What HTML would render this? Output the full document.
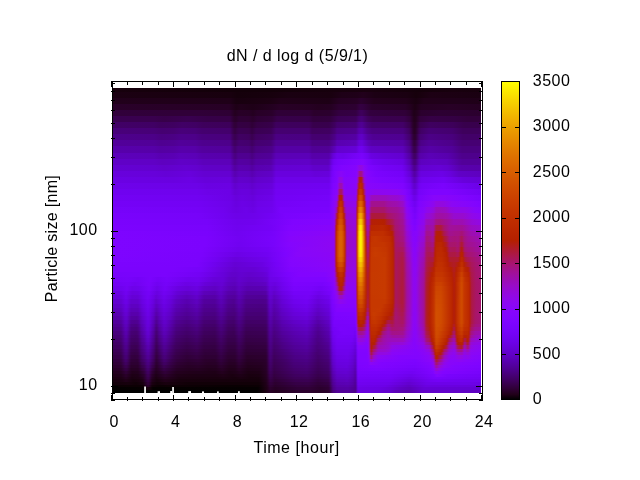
<!DOCTYPE html><html><head><meta charset="utf-8"><title>dN / d log d</title>
<style>html,body{margin:0;padding:0;background:#fff}#c{position:relative;width:640px;height:480px;overflow:hidden;background:#fff}svg{position:absolute;left:0;top:0;display:block}text{font-family:"Liberation Sans",sans-serif;font-size:16px;fill:#000}.hm{position:absolute;left:113px;top:88px;width:368px;height:305px;overflow:hidden}.hm i{position:absolute;left:0;width:368px;display:block}</style>
</head><body><div id="c">
<div class="hm"><i style="top:0px;height:4px;background:linear-gradient(90deg,#17000d 0px,#130009 119px,#130009 159px,#19000f 255px,#14000a 306px,#18000e 339px,#17000d 368px)"></i><i style="top:4px;height:6px;background:linear-gradient(90deg,#1b0012 0px,#18000e 118px,#15000b 124px,#17000d 159px,#1a0011 175px,#19000f 218px,#1e0017 229px,#1f0018 244px,#22001c 250px,#1c0014 262px,#1a0011 294px,#16000b 303px,#1d0014 318px,#1a0011 368px)"></i><i style="top:10px;height:6px;background:linear-gradient(90deg,#21001b 0px,#1f0018 117px,#18000f 123px,#1c0013 158px,#200019 168px,#1d0015 216px,#250022 226px,#270025 244px,#2b002e 248px,#23001d 261px,#21001a 293px,#190010 303px,#21001a 311px,#20001a 345px,#1f0018 368px)"></i><i style="top:16px;height:6px;background:linear-gradient(90deg,#290029 0px,#270025 116px,#1e0016 123px,#21001b 128px,#1e0017 140px,#240021 160px,#280026 167px,#260023 197px,#24001f 205px,#250022 218px,#2c0030 226px,#2d0031 243px,#340042 247px,#330040 250px,#2a002c 259px,#280028 292px,#23001e 298px,#1c0013 302px,#250022 308px,#280026 336px,#250022 368px)"></i><i style="top:22px;height:6px;background:linear-gradient(90deg,#31003b 0px,#300038 61px,#300038 85px,#2e0034 117px,#24001f 122px,#280027 126px,#270026 136px,#240020 140px,#280027 144px,#2a002b 159px,#2f0037 164px,#2f0036 196px,#2b002c 201px,#2b002e 217px,#330040 226px,#340043 243px,#3d005a 247px,#3e005c 249px,#33003f 257px,#31003b 273px,#300038 292px,#2b002e 297px,#1f0018 301px,#23001e 304px,#2b002e 308px,#2d0033 328px,#2b002e 368px)"></i><i style="top:28px;height:6px;background:linear-gradient(90deg,#390050 0px,#39004e 41px,#370049 51px,#390050 75px,#360048 94px,#360046 117px,#2b002d 121px,#2a002b 123px,#2e0035 126px,#2e0033 136px,#2a002b 140px,#2e0035 144px,#31003a 159px,#37004a 164px,#360048 196px,#31003c 200px,#32003e 217px,#3b0055 225px,#3d0059 243px,#450072 246px,#470077 249px,#3e005b 255px,#3a0050 260px,#39004d 291px,#32003c 297px,#22001c 301px,#24001f 303px,#32003c 307px,#360046 318px,#340043 342px,#32003c 354px,#32003c 368px)"></i><i style="top:34px;height:6px;background:linear-gradient(90deg,#410066 0px,#400064 41px,#3e005e 47px,#3f0060 61px,#410066 69px,#400063 83px,#3e005c 90px,#3d005a 117px,#31003a 121px,#300037 123px,#340043 125px,#340041 136px,#2f0036 139px,#350044 144px,#37004a 159px,#3e005e 163px,#3e005c 196px,#38004c 200px,#38004d 216px,#3f0060 222px,#44006e 224px,#460073 243px,#4e008f 246px,#500094 249px,#470078 254px,#420069 259px,#420067 290px,#38004b 297px,#290028 300px,#240020 302px,#2c002f 304px,#39004f 307px,#3f0060 317px,#3d005a 340px,#38004d 351px,#38004d 368px)"></i><i style="top:40px;height:6px;background:linear-gradient(90deg,#48007a 0px,#470077 41px,#450071 49px,#460073 61px,#48007a 68px,#470078 82px,#44006f 89px,#43006c 117px,#39004e 120px,#340042 122px,#38004c 124px,#3a0053 126px,#3a0050 136px,#340043 139px,#3a0053 143px,#3c0057 158px,#450071 163px,#450070 196px,#3f005e 199px,#400061 217px,#470076 222px,#4c0086 224px,#4e008c 243px,#5700aa 246px,#5800af 249px,#4f0090 254px,#4a0080 259px,#49007d 290px,#400063 296px,#39004e 298px,#2c0030 300px,#280027 301px,#270025 302px,#300039 304px,#3c0057 306px,#410065 308px,#460076 316px,#44006f 339px,#3e005c 350px,#3e005c 368px)"></i><i style="top:46px;height:6px;background:linear-gradient(90deg,#4d008b 0px,#4c0088 41px,#4a0081 48px,#4b0084 61px,#4d008b 68px,#4d0089 82px,#49007f 89px,#49007c 117px,#3e005c 120px,#390050 122px,#400062 126px,#3f005f 136px,#3a0050 139px,#400061 143px,#43006a 159px,#4b0083 163px,#4a0082 196px,#450070 199px,#450070 216px,#4d0089 222px,#52009c 224px,#5500a3 243px,#5e01c1 246px,#6001c6 249px,#5400a1 255px,#500093 260px,#4f0091 290px,#43006b 297px,#31003b 300px,#2d0031 301px,#2c002f 302px,#2f0037 303px,#410067 306px,#450072 307px,#4c0087 316px,#49007d 339px,#420068 350px,#420068 368px)"></i><i style="top:52px;height:6px;background:linear-gradient(90deg,#52009a 0px,#510098 41px,#4f0091 48px,#500094 61px,#52009a 67px,#510097 83px,#4e008e 89px,#4d008b 117px,#43006b 120px,#3f005f 122px,#450071 126px,#44006e 136px,#3f005f 139px,#450070 143px,#460076 158px,#500093 163px,#500093 196px,#4a0082 199px,#4a0082 216px,#53009d 222px,#5900b1 224px,#5c01b9 243px,#6601d7 246px,#6701db 249px,#5b01b7 255px,#5600a9 259px,#5500a4 290px,#4b0084 296px,#43006c 298px,#370049 300px,#32003e 301px,#32003c 302px,#3b0054 304px,#470077 306px,#4c0087 308px,#510096 316px,#4d008a 339px,#460073 349px,#460073 368px)"></i><i style="top:58px;height:7px;background:linear-gradient(90deg,#5700ab 0px,#5600a8 41px,#5400a2 47px,#5500a4 61px,#5700ab 68px,#5700a9 82px,#53009e 89px,#52009b 117px,#460075 121px,#44006f 122px,#4a0080 125px,#49007e 136px,#44006f 139px,#4a0081 143px,#4d008a 159px,#5500a5 163px,#5500a5 196px,#500095 199px,#510096 216px,#5c01bb 222px,#6301ce 224px,#6601d7 243px,#6f02ec 246px,#7002ef 249px,#5f01c4 258px,#5c01b9 290px,#4e008e 297px,#3d005b 300px,#39004f 301px,#39004d 302px,#3c0056 303px,#4d008a 306px,#52009a 308px,#5600a7 317px,#510099 339px,#4a0080 349px,#4a0080 368px)"></i><i style="top:65px;height:6px;background:linear-gradient(90deg,#5c01ba 0px,#5b01b8 41px,#5900b2 47px,#5a00b4 61px,#5c01ba 67px,#5b01b7 83px,#5800ae 89px,#5700ab 117px,#4c0086 121px,#4a0081 122px,#4b0083 123px,#4f0091 125px,#4f0090 136px,#4a0081 139px,#500092 143px,#510098 158px,#5b01b6 163px,#5b01b8 196px,#5700a9 199px,#5700ab 216px,#6601d7 220px,#6f02ed 224px,#6e02eb 230px,#7a03fc 249px,#7102f1 255px,#6a01e1 258px,#6601d8 270px,#6301d0 290px,#5400a2 297px,#450071 300px,#410065 301px,#400063 302px,#43006c 303px,#53009e 306px,#5700a9 307px,#5b01b7 316px,#5800ae 335px,#53009e 342px,#4e008c 349px,#4e008c 368px)"></i><i style="top:71px;height:6px;background:linear-gradient(90deg,#6001c7 0px,#6001c5 41px,#5e01bf 49px,#5e01c2 61px,#6001c7 68px,#5f01c4 83px,#5c01bb 90px,#5c01b9 117px,#510096 121px,#4f0091 122px,#52009b 124px,#5400a2 126px,#54009f 136px,#4f0091 139px,#5400a2 143px,#5600a7 158px,#5f01c5 163px,#6001c7 196px,#5c01ba 199px,#5c01ba 215px,#5d01be 216px,#6c01e7 219px,#7302f4 221px,#7803fb 225px,#7f04ff 242px,#8305fe 250px,#7803fb 256px,#7202f3 260px,#6e02ec 270px,#6a01e2 290px,#5a01b5 297px,#4c0087 300px,#48007c 301px,#48007a 302px,#4a0082 303px,#5900b1 306px,#5d01bf 308px,#6001c5 320px,#5e01c0 334px,#520099 349px,#520099 368px)"></i><i style="top:77px;height:6px;background:linear-gradient(90deg,#6401d2 0px,#6301d0 41px,#6201cb 51px,#6401d2 73px,#6301ce 84px,#6001c7 91px,#6001c5 117px,#5600a6 121px,#5400a1 122px,#5900b0 126px,#5800ae 136px,#5400a1 139px,#5900b0 143px,#5a01b5 158px,#6401d2 163px,#6501d4 196px,#6101ca 200px,#6101ca 215px,#6301ce 216px,#7202f2 219px,#7903fc 221px,#8004ff 229px,#8405fd 243px,#8c07f3 245px,#9008e6 246px,#9209e0 248px,#9109e4 249px,#8a06f7 251px,#7d04ff 256px,#7502f7 270px,#7102f0 289px,#6c01e5 292px,#6001c7 297px,#4f0091 301px,#4f0090 302px,#5600a6 304px,#5f01c3 306px,#6301d0 308px,#6601d6 326px,#6301cf 335px,#5800ac 348px,#5700aa 368px)"></i><i style="top:83px;height:6px;background:linear-gradient(90deg,#6801dc 0px,#6701da 41px,#6501d6 53px,#6801dc 77px,#6401d2 91px,#6401d1 117px,#5b01b6 121px,#5900b1 122px,#5e01bf 126px,#5d01bd 136px,#5900b1 139px,#5e01bf 144px,#6001c6 159px,#6901de 163px,#6901de 197px,#6701d9 202px,#6801dc 216px,#7602f8 219px,#7d04ff 222px,#8906f7 228px,#8204ff 233px,#8605fc 243px,#8b07f5 244px,#950ad6 245px,#a0109d 246px,#a41281 247px,#a41281 248px,#a21193 249px,#990cc4 250px,#9008e6 251px,#8b07f3 252px,#8305fe 255px,#7b03fe 263px,#7502f8 290px,#6601d8 297px,#5600a7 301px,#5500a5 302px,#5c01ba 304px,#6501d5 306px,#6901e0 308px,#6c01e7 329px,#6801dd 337px,#6001c7 346px,#5e01bf 368px)"></i><i style="top:89px;height:6px;background:linear-gradient(90deg,#6b01e4 0px,#6901e0 61px,#6b01e4 77px,#6701db 92px,#6801dc 117px,#5f01c4 121px,#5f01c2 123px,#6201cc 126px,#6101ca 136px,#5e01c0 139px,#6201cc 144px,#6401d2 159px,#6d02e8 163px,#6d02e8 216px,#7903fc 219px,#8204ff 224px,#8806f9 225px,#9008e8 226px,#9209e0 227px,#9109e4 229px,#8505fc 231px,#8806fa 243px,#8f08eb 244px,#9f0fa6 245px,#ae1a36 246px,#b41f04 247px,#b41f04 248px,#b01c24 249px,#a41282 250px,#980bc9 251px,#9008e6 252px,#8a06f5 253px,#8405fe 256px,#7e04ff 268px,#7a03fd 290px,#6c02e7 297px,#5c01bb 301px,#5c01ba 302px,#6201cd 304px,#6b01e5 306px,#6f02ee 309px,#7302f5 331px,#6801dc 350px,#6501d5 368px)"></i><i style="top:95px;height:6px;background:linear-gradient(90deg,#6e02ea 0px,#6c02e7 84px,#6a01e2 94px,#6b01e3 117px,#6201cd 122px,#6601d6 126px,#6501d5 136px,#6201cc 139px,#6601d6 144px,#6801dc 159px,#7002ef 163px,#7102f1 216px,#7f04ff 220px,#8405fd 224px,#8e08ed 225px,#990cc3 226px,#9d0eae 227px,#9d0eae 228px,#9c0db7 229px,#930adc 230px,#8906f7 231px,#8605fb 233px,#8a06f7 243px,#950ad7 244px,#b82400 246px,#be2b00 247px,#ba2600 249px,#ad193b 250px,#a11099 251px,#970bce 252px,#8d07ef 253px,#8706fb 255px,#8004ff 290px,#7202f3 297px,#6201cd 301px,#6201cc 302px,#6801dd 304px,#7102f1 306px,#7502f7 309px,#7b03fd 330px,#6f02ed 357px,#6c01e7 368px)"></i><i style="top:101px;height:6px;background:linear-gradient(90deg,#7002f0 0px,#6f02ed 84px,#6d02e8 94px,#6c01e6 117px,#6501d5 122px,#6801dd 128px,#6801dc 136px,#6501d4 139px,#6801de 145px,#6b01e3 159px,#7202f2 163px,#7402f6 216px,#8204ff 220px,#8806f9 224px,#950ad7 225px,#a41284 226px,#a9165f 227px,#a9165f 228px,#a7146f 229px,#9c0db4 230px,#8e08ec 231px,#8906f7 232px,#8906f7 242px,#8c07f2 243px,#9c0db7 244px,#b11d1b 245px,#c12f00 246px,#c63900 247px,#c33300 249px,#b72300 250px,#9f0fa7 252px,#9109e4 253px,#8b07f4 254px,#8b07f4 257px,#8d07ef 262px,#8b07f4 285px,#8305fe 292px,#7703fa 297px,#6801dc 301px,#6a01e0 303px,#7603f9 306px,#7f04ff 318px,#7f04ff 335px,#7302f4 368px)"></i><i style="top:107px;height:6px;background:linear-gradient(90deg,#7302f4 0px,#7102f1 84px,#6f02ed 96px,#6c01e6 118px,#6801dc 123px,#6a01e2 129px,#6901de 137px,#6701db 140px,#6b01e3 144px,#6d02e8 159px,#7302f5 163px,#7602f8 202px,#7603f9 216px,#8405fe 220px,#8a07f5 223px,#8f08ea 224px,#9e0fa8 225px,#b01b29 226px,#b62100 227px,#b62100 228px,#b31f0b 229px,#a71472 230px,#960bd1 231px,#8f08e9 232px,#8d07f0 235px,#8c07f3 242px,#8f08e9 243px,#a31287 244px,#bc2900 245px,#cb4000 246px,#d04c00 247px,#d04c00 248px,#cd4400 249px,#b52100 251px,#a7146d 252px,#960bd1 253px,#8e08ed 254px,#8d07ef 256px,#930adc 257px,#9a0cc1 258px,#9b0dbc 260px,#9a0dbe 272px,#980cc8 276px,#960ad3 285px,#9109e3 290px,#8204ff 294px,#7803fb 298px,#6d02e8 301px,#6f02ec 303px,#7b03fd 306px,#8706fb 321px,#8806f8 330px,#8104ff 351px,#7903fc 368px)"></i><i style="top:113px;height:6px;background:linear-gradient(90deg,#7502f7 0px,#7302f4 85px,#6d02e9 117px,#6901e0 123px,#6c01e6 129px,#6a01e3 137px,#6901e0 140px,#6d02e8 145px,#6f02ec 159px,#7502f7 164px,#7803fb 198px,#7803fb 216px,#8205fe 219px,#8b07f4 222px,#9209e2 223px,#990cc6 224px,#a91561 225px,#bb2700 226px,#c13000 227px,#be2c00 229px,#b11d1d 230px,#a00f9f 231px,#970bcd 232px,#9309df 233px,#9008e7 235px,#8f08ec 242px,#9309dd 243px,#ab174c 244px,#c63800 245px,#d55600 246px,#da6400 247px,#da6400 248px,#d75b00 249px,#c02e00 251px,#b01b27 252px,#9b0db8 253px,#9209e2 254px,#9008e7 255px,#9109e4 256px,#990cc4 257px,#a11096 258px,#a2118e 259px,#a2118f 271px,#9f0fa4 275px,#9d0eaf 284px,#980bc9 290px,#8b07f3 293px,#8405fe 295px,#7803fb 299px,#7102f1 302px,#7f04ff 306px,#8906f8 316px,#8e07ee 321px,#9309df 323px,#9209e0 330px,#8b07f5 339px,#8305fe 360px,#7f04ff 368px)"></i><i style="top:119px;height:6px;background:linear-gradient(90deg,#7703fa 0px,#7502f7 85px,#7002ee 111px,#6b01e4 123px,#6d02e9 133px,#6b01e4 140px,#6e02ec 145px,#7002ef 159px,#7803fb 167px,#7a03fd 216px,#8405fd 219px,#8906f8 221px,#8f08ea 222px,#9a0cbf 223px,#a3118a 224px,#b21e13 225px,#c33300 226px,#c93d00 227px,#c63900 229px,#ba2600 230px,#a9165c 231px,#9f0fa1 232px,#970bcc 233px,#940adc 234px,#9109e4 242px,#970bd0 243px,#b31e0e 244px,#d04c00 245px,#df7100 246px,#e48300 247px,#e48300 248px,#e17700 249px,#ca3f00 251px,#b82400 252px,#a1109a 253px,#950ad5 254px,#930adc 255px,#950ad6 256px,#9e0eac 257px,#a71472 258px,#a81568 259px,#a81569 271px,#a31288 275px,#a11095 284px,#9d0eb2 290px,#8f08e9 293px,#8b07f5 294px,#8104ff 298px,#7602f8 302px,#8305fe 306px,#8706fa 311px,#8f08eb 314px,#9108e6 318px,#940ada 321px,#9a0cbf 323px,#9b0dba 327px,#990cc3 333px,#9309dd 337px,#9008e7 343px,#9008e8 352px,#8706fa 362px,#8505fc 368px)"></i><i style="top:125px;height:6px;background:linear-gradient(90deg,#7903fc 0px,#7703f9 85px,#7002f0 111px,#6d02e8 123px,#6d02ea 137px,#6e02ea 141px,#7302f5 160px,#7a03fd 172px,#7f04ff 217px,#8a06f5 221px,#940adc 222px,#af1b2d 224px,#bc2900 225px,#ca3f00 226px,#cf4800 227px,#cd4400 229px,#b41f04 231px,#a91563 232px,#9c0db6 233px,#950ad4 234px,#9309df 242px,#990cc5 243px,#b82500 244px,#d96000 245px,#e89000 246px,#eea600 247px,#eea600 248px,#ea9800 249px,#de7000 250px,#d24f00 251px,#bf2d00 252px,#a5137c 253px,#990cc6 254px,#970bcf 255px,#990cc7 256px,#a21190 257px,#ac1848 258px,#ad193b 259px,#ad193c 271px,#ad1942 272px,#a9165c 274px,#a81568 276px,#a41285 284px,#9f0fa2 290px,#980bca 292px,#9309df 293px,#8e08ed 294px,#8405fd 298px,#7903fc 302px,#8605fc 306px,#8b07f4 311px,#930adc 313px,#970bcf 318px,#9a0cc1 321px,#9e0eaa 323px,#9f0fa3 328px,#9e0eac 334px,#960bd0 341px,#970bce 350px,#9008e9 359px,#8b07f4 368px)"></i><i style="top:131px;height:6px;background:linear-gradient(90deg,#7b03fd 0px,#7703fa 94px,#6f02ed 124px,#7002ee 141px,#7703f9 162px,#8004ff 180px,#8205fe 217px,#8b07f3 221px,#970bcc 222px,#ac1845 223px,#b92600 224px,#cf4900 226px,#d35200 227px,#d14e00 229px,#bd2a00 231px,#b11c21 232px,#9f0fa1 233px,#970bcf 234px,#940adb 242px,#9b0dbd 243px,#bc2a00 244px,#df7200 245px,#efae00 246px,#f5ca00 247px,#f5ca00 248px,#f2b800 249px,#e58600 250px,#d85e00 251px,#c43400 252px,#a9165f 253px,#9c0db5 254px,#9a0cc0 255px,#9c0db5 256px,#a7146e 257px,#b21d15 258px,#b41f07 259px,#b52100 267px,#b42001 271px,#b31f08 272px,#b01c26 274px,#aa1755 280px,#a61474 282px,#a11097 290px,#9a0cbf 292px,#9109e5 294px,#8305fe 299px,#7d04fe 302px,#8605fc 305px,#8d07f0 309px,#8e08ec 311px,#990cc6 313px,#9a0cbf 314px,#9c0db5 320px,#9e0eab 321px,#a41287 323px,#a5137c 327px,#a11095 334px,#9c0db6 341px,#9d0eb1 349px,#950ad7 359px,#9109e4 368px)"></i><i style="top:137px;height:6px;background:linear-gradient(90deg,#7c03fe 0px,#7903fc 94px,#7002ef 124px,#7502f7 158px,#8104ff 176px,#8605fb 217px,#8c07f1 221px,#9b0dbc 222px,#b31f0a 223px,#c23100 224px,#d45300 226px,#d75b00 227px,#d55700 229px,#c53600 231px,#b82300 232px,#a3118d 233px,#980bca 234px,#950ad8 242px,#9c0db6 243px,#c02e00 244px,#e48100 245px,#f5c700 246px,#fbe800 247px,#fbe800 248px,#f7d300 249px,#ea9800 250px,#c83b00 252px,#ad1942 253px,#9f0fa3 254px,#9d0eb0 255px,#9f0fa1 256px,#ad1843 257px,#b92600 258px,#bb2800 270px,#b52000 276px,#b31f09 277px,#ae1a35 280px,#a8156a 282px,#a41283 287px,#a2118f 290px,#a00f9f 291px,#970bcc 293px,#930adc 294px,#8705fb 299px,#8004ff 302px,#8906f8 305px,#8f08ea 308px,#9109e4 311px,#970bcd 312px,#9d0ead 313px,#9f0fa3 314px,#9e0eaa 320px,#a11096 321px,#a81568 322px,#ad1942 323px,#ae1a39 324px,#ae1a39 327px,#ad193e 328px,#a7146e 331px,#a1109a 337px,#a11096 347px,#a21094 349px,#9a0cc1 358px,#970bcf 368px)"></i><i style="top:143px;height:5px;background:linear-gradient(90deg,#7e04ff 0px,#7a03fd 95px,#7102f1 124px,#7703fa 159px,#8405fe 177px,#8906f7 217px,#8d07ef 221px,#9d0eaf 222px,#b82400 223px,#c83b00 224px,#d65a00 226px,#d96100 227px,#d85e00 229px,#cb4000 231px,#bd2a00 232px,#a5137d 233px,#990cc7 234px,#950ad5 242px,#9d0eb1 243px,#c23200 244px,#e78c00 245px,#f7d300 246px,#fdf400 247px,#fdf400 248px,#f9df00 249px,#eda400 250px,#e07400 251px,#cb4100 252px,#b01b29 253px,#a21192 254px,#a00fa0 255px,#a2118e 256px,#b11d1c 257px,#c02e00 258px,#c02e00 270px,#b42000 279px,#b21d15 280px,#ad193f 281px,#a91561 282px,#a7146c 283px,#a31288 290px,#960ad4 294px,#8505fc 300px,#8706fa 304px,#9109e3 308px,#940adc 311px,#9a0cc0 312px,#a11099 313px,#a3118e 314px,#a21193 317px,#a00f9f 319px,#a00fa0 320px,#a41285 321px,#ac1846 322px,#b21e14 323px,#b41f06 324px,#b41f04 327px,#b31f0c 328px,#ae1a38 330px,#ab174f 331px,#a5137c 335px,#a31289 336px,#a2118f 338px,#a41287 342px,#a41286 346px,#a61377 348px,#a61376 349px,#a21192 352px,#9d0eb0 358px,#9a0cbf 368px)"></i><i style="top:148px;height:6px;background:linear-gradient(90deg,#7e04ff 0px,#7c03fe 92px,#7202f2 127px,#7903fc 161px,#8605fc 178px,#8b07f4 217px,#8e07ee 221px,#9e0eab 222px,#b92500 223px,#c93d00 224px,#d75c00 226px,#da6300 227px,#d96000 229px,#cc4300 231px,#be2c00 232px,#a61378 233px,#990cc5 234px,#960ad4 242px,#9d0ead 243px,#c43400 244px,#e89200 245px,#f8d500 246px,#fdf400 247px,#fdf400 248px,#fae000 249px,#eea900 250px,#e27b00 251px,#cd4600 252px,#b21e11 253px,#a41281 254px,#a21191 255px,#a5137c 256px,#b42002 257px,#c33200 258px,#c53600 262px,#bf2d00 276px,#b62100 280px,#aa165a 282px,#a81568 283px,#a51280 290px,#a2118f 291px,#9b0dbb 293px,#970bcc 294px,#8706fa 300px,#8605fb 303px,#930adc 308px,#960ad3 311px,#9c0eb3 312px,#a3118a 313px,#a5137d 314px,#a41284 317px,#a21191 319px,#a21192 320px,#a61474 321px,#af1b2e 322px,#b52100 323px,#b52100 329px,#af1b2a 331px,#ab1750 334px,#a61377 336px,#a51280 337px,#a61378 342px,#a51280 345px,#a51379 346px,#aa1659 348px,#aa1755 349px,#a5137d 351px,#a11099 355px,#9d0eb2 367px,#9c0eb2 368px)"></i><i style="top:154px;height:5px;background:linear-gradient(90deg,#7e04ff 0px,#7c03fe 92px,#7102f1 126px,#7803fb 160px,#8405fe 176px,#8c07f3 218px,#8e07ee 221px,#9e0eab 222px,#b92600 223px,#c93d00 224px,#d75c00 226px,#da6300 227px,#d96000 229px,#cc4300 231px,#be2c00 232px,#a61379 233px,#990cc6 234px,#950ad4 242px,#9d0ead 243px,#c43500 244px,#e99300 245px,#f8d600 246px,#fdf400 247px,#fdf400 248px,#fae000 249px,#eea900 250px,#e27c00 251px,#cf4800 252px,#b52000 253px,#a71470 254px,#a41283 255px,#a8156a 256px,#b62200 257px,#c43500 258px,#c43500 271px,#bf2d00 277px,#b72300 280px,#b01c23 281px,#aa1755 282px,#a81564 283px,#a61473 290px,#a41283 291px,#9d0eb1 293px,#990cc3 294px,#8906f7 300px,#8605fb 302px,#8b07f4 304px,#940ad9 307px,#980bc9 311px,#9e0fa8 312px,#a5137d 313px,#a71470 314px,#a61375 317px,#a41281 319px,#a41281 320px,#a91561 321px,#b21d19 322px,#b82400 323px,#bb2700 328px,#b62200 330px,#b11c20 333px,#af1a31 334px,#a91563 336px,#a7146e 337px,#a8156a 342px,#a61378 345px,#a7146d 346px,#ae1a38 348px,#af1a32 349px,#ab184c 350px,#a7146e 351px,#a5137e 352px,#a2118f 355px,#a11096 360px,#9f0fa2 364px,#9e0fa7 368px)"></i><i style="top:159px;height:5px;background:linear-gradient(90deg,#7e04ff 0px,#7c03fe 89px,#6f02ed 125px,#7402f6 155px,#8104ff 174px,#8806fa 188px,#8b07f4 217px,#8d07ee 221px,#9e0eac 222px,#b92500 223px,#c93d00 224px,#d75c00 226px,#da6300 227px,#d96000 229px,#cc4300 231px,#be2b00 232px,#a5137b 233px,#980cc8 234px,#950ad6 242px,#9d0eb0 243px,#c43500 244px,#e99300 245px,#f8d600 246px,#fdf400 247px,#fdf400 248px,#fae000 249px,#eea900 250px,#e27c00 251px,#cf4a00 252px,#b72200 253px,#a91660 254px,#a61376 255px,#aa165a 256px,#b82400 257px,#c53600 258px,#c73a00 262px,#c43500 273px,#bb2800 279px,#b82400 280px,#b11c1d 281px,#ab1752 282px,#a91561 283px,#a9165e 289px,#a81564 290px,#a61375 291px,#9e0fa7 293px,#9b0dbb 294px,#950ad4 297px,#8a07f5 300px,#8706fa 302px,#9008e8 305px,#960ad3 307px,#9a0cbf 311px,#a0109d 312px,#a61474 313px,#a81565 314px,#a81565 317px,#a7146f 319px,#a7146f 320px,#ab174f 321px,#b41f07 322px,#ba2600 323px,#bd2a00 328px,#b52000 332px,#b41f06 333px,#b11d19 334px,#ab174e 336px,#aa165b 337px,#aa1657 342px,#a81569 344px,#a7146d 345px,#a9165e 346px,#b21d16 348px,#b31e0d 349px,#af1b2f 350px,#a9165d 351px,#a71471 352px,#a41283 355px,#a41286 359px,#a11096 363px,#a0109c 368px)"></i><i style="top:164px;height:5px;background:linear-gradient(90deg,#7e04ff 0px,#7b03fd 89px,#6c01e6 124px,#7102f2 154px,#7e04ff 172px,#8706fb 184px,#8a06f6 216px,#8d07ef 221px,#9e0eac 222px,#b92500 223px,#c93d00 224px,#d75c00 226px,#da6300 227px,#d96000 229px,#cc4300 231px,#be2b00 232px,#a5127f 233px,#970bcc 234px,#940ad9 242px,#9c0eb3 243px,#c43400 244px,#e89100 245px,#f7d100 246px,#fcee00 247px,#fcee00 248px,#f9db00 249px,#eea700 250px,#d04b00 252px,#b92500 253px,#ab1750 254px,#a8156a 255px,#ac184a 256px,#b92500 257px,#c63700 258px,#c83b00 262px,#c53700 273px,#b92500 280px,#b11d1a 281px,#ab174f 282px,#a9165e 283px,#ab174e 289px,#aa1754 290px,#a81567 291px,#a0109d 293px,#9c0eb3 294px,#970bce 297px,#8f08ea 299px,#8906f8 301px,#8a06f5 303px,#970bcd 307px,#9a0dbe 310px,#9c0db4 311px,#a21194 312px,#a7146c 313px,#a9165c 314px,#ab1753 316px,#aa165a 320px,#ae193a 321px,#b62100 322px,#bd2a00 324px,#bd2a00 329px,#b42002 334px,#ae1a38 336px,#ac1845 337px,#ad1941 342px,#ab1751 344px,#aa1754 345px,#ad1942 346px,#b21d17 347px,#b72200 348px,#b82400 349px,#b31f0a 350px,#ad1940 351px,#aa1658 352px,#a71470 355px,#a5137b 360px,#a31289 364px,#a2118f 368px)"></i><i style="top:169px;height:5px;background:linear-gradient(90deg,#7d04ff 0px,#7b03fd 86px,#7202f2 103px,#6801dc 122px,#6e02eb 153px,#7502f8 161px,#8405fe 178px,#8906f7 216px,#8d07ef 221px,#9d0eb1 222px,#b72300 223px,#c73900 224px,#d55700 226px,#d85d00 228px,#d65a00 229px,#ca3f00 231px,#bc2800 232px,#a31289 233px,#960bd0 234px,#930adc 242px,#9b0db8 243px,#c23200 244px,#e68900 245px,#f3c000 246px,#f8d800 247px,#f8d800 248px,#f5c800 249px,#e07600 251px,#d04a00 252px,#ba2600 253px,#ad1942 254px,#a9165e 255px,#ad193c 256px,#ba2700 257px,#c63800 258px,#c73a00 272px,#b92500 280px,#b21d18 281px,#ab174e 282px,#a9165d 283px,#ac1845 289px,#ac184b 290px,#a9165e 291px,#a11096 293px,#9e0eac 294px,#9b0db9 295px,#980bc9 297px,#9008e7 299px,#8a06f6 301px,#8b07f4 303px,#980cc8 307px,#9c0db5 310px,#9e0eaa 311px,#a3118b 312px,#a81564 313px,#ab1753 314px,#ac1845 316px,#ac1844 320px,#b82400 322px,#bf2d00 325px,#be2c00 329px,#b72200 334px,#b31f07 335px,#b11c21 336px,#af1b2e 337px,#af1b2f 345px,#b11d1b 346px,#b62200 347px,#bd2a00 349px,#b82400 350px,#ae1a34 352px,#ab174d 354px,#a81565 358px,#a5137a 364px,#a41282 368px)"></i><i style="top:174px;height:5px;background:linear-gradient(90deg,#7c03fe 0px,#7b03fd 84px,#7202f3 97px,#6501d4 122px,#6a01e2 149px,#7502f7 163px,#8305fe 178px,#8806f9 215px,#8d07f0 221px,#9b0dbc 222px,#b31e0f 223px,#c12f00 224px,#cf4900 226px,#d24e00 228px,#d04c00 229px,#c43400 231px,#b62200 232px,#a1109a 233px,#950ad5 234px,#9309df 242px,#9a0dbe 243px,#c12f00 244px,#e37e00 245px,#efad00 246px,#f3c100 247px,#f3c100 248px,#f1b400 249px,#de6e00 251px,#bb2700 253px,#ae1a36 254px,#ab1751 255px,#af1b2e 256px,#bb2800 257px,#c63800 258px,#c73a00 272px,#b92500 280px,#b21d18 281px,#ab174e 282px,#a9165d 283px,#ad1843 289px,#ac1848 290px,#aa165b 291px,#9e0fa9 294px,#990cc6 297px,#8d07ef 300px,#8a06f6 302px,#8f08ea 304px,#990cc4 307px,#9d0eae 310px,#9f0fa3 311px,#a41283 312px,#a9165c 313px,#ad1940 315px,#b01b29 320px,#b31f0a 321px,#ba2700 322px,#c13000 325px,#c02f00 329px,#b62200 335px,#b21e14 337px,#b01b27 341px,#b11d1b 343px,#b62200 346px,#c13100 349px,#b62200 351px,#aa1658 358px,#a7146f 363px,#a61379 368px)"></i><i style="top:179px;height:5px;background:linear-gradient(90deg,#7b03fd 0px,#7b03fd 60px,#7603f9 88px,#6301ce 122px,#6501d4 128px,#6501d4 141px,#6a01e2 154px,#7002ef 158px,#8004ff 177px,#8706fa 217px,#8c07f2 221px,#980bca 222px,#ad1843 223px,#b92500 224px,#c73900 226px,#c93d00 228px,#c33300 230px,#bd2a00 231px,#b11c1d 232px,#9e0eab 233px,#940ada 234px,#9209e3 242px,#990cc4 243px,#be2c00 244px,#df7200 245px,#ea9a00 246px,#efab00 247px,#efab00 248px,#eca000 249px,#cd4400 252px,#bb2700 253px,#af1b2b 254px,#ac1843 255px,#b11c20 256px,#bc2900 257px,#c63800 258px,#c73a00 272px,#b92500 280px,#b21d18 281px,#ab174e 282px,#a9165d 283px,#ad1941 289px,#ac1846 290px,#aa1659 291px,#a21190 293px,#9f0fa6 294px,#990cc4 297px,#8e07ee 300px,#8b07f5 302px,#9008e8 304px,#9a0cc0 307px,#9e0ea9 310px,#a0109d 311px,#a5137c 312px,#aa1754 313px,#ae1a36 315px,#b11d1d 318px,#b72200 321px,#c23100 323px,#c23100 329px,#b42000 338px,#b11c20 341px,#b11d1a 342px,#b41f04 343px,#c02f00 347px,#c63900 349px,#b82400 352px,#b41f04 355px,#b21d19 356px,#ae1939 357px,#ab174f 358px,#a7146b 363px,#a61475 368px)"></i><i style="top:184px;height:5px;background:linear-gradient(90deg,#7803fb 0px,#7b03fd 52px,#7402f5 86px,#6a01e0 104px,#6601d9 111px,#6201cb 118px,#6101ca 123px,#6301d0 128px,#6201cb 136px,#6501d4 150px,#6701db 154px,#6e02eb 157px,#7b03fe 175px,#8204ff 186px,#8205fe 212px,#8806f9 219px,#8b07f5 221px,#950ad8 222px,#a61376 223px,#b11c20 224px,#b72300 225px,#c02f00 227px,#c02e00 229px,#b52100 231px,#ab174e 232px,#9b0dbc 233px,#9209e0 234px,#9008e7 242px,#980bcb 243px,#bb2800 244px,#db6600 245px,#e68900 246px,#ea9800 247px,#ea9800 248px,#e78e00 249px,#d75a00 251px,#bb2700 253px,#b11c21 254px,#ae1a38 255px,#b21e14 256px,#bd2a00 257px,#c63900 258px,#c73a00 272px,#b92500 280px,#b21d18 281px,#ab174e 282px,#a9165d 283px,#ad193f 289px,#ac1845 290px,#aa1657 291px,#9f0fa5 294px,#990cc2 297px,#8e08ed 300px,#8b07f4 302px,#9008e6 304px,#9a0dbd 307px,#9f0fa5 310px,#a11098 311px,#ab184c 313px,#ae1939 314px,#b11d19 317px,#b41f07 318px,#b52100 319px,#ba2600 321px,#c43500 323px,#c43500 329px,#b52100 339px,#b11d1a 341px,#b62200 343px,#c53600 347px,#ca3f00 348px,#cb4100 349px,#c02f00 351px,#b62200 356px,#ac1846 358px,#a81569 363px,#a71471 368px)"></i><i style="top:189px;height:5px;background:linear-gradient(90deg,#7502f7 0px,#7703fa 15px,#7402f6 25px,#7a03fd 37px,#7502f7 45px,#7803fb 54px,#7002ef 75px,#7102f0 85px,#6701d9 101px,#6601d7 110px,#6001c7 116px,#5f01c2 122px,#6201cd 126px,#5f01c3 136px,#6101ca 149px,#6401d2 154px,#6c02e7 157px,#6e02ea 164px,#7402f5 170px,#7e04ff 181px,#7e04ff 212px,#8605fc 219px,#8906f8 221px,#9109e4 222px,#a9165d 224px,#b11c1e 225px,#b92500 226px,#bb2800 229px,#b62100 230px,#af1b2b 231px,#a61376 232px,#980bcb 233px,#9008e7 234px,#8f08eb 242px,#960bd1 243px,#b92500 244px,#d75c00 245px,#e17900 246px,#e58600 247px,#e58600 248px,#e37e00 249px,#c83c00 252px,#bb2700 253px,#b11d1c 254px,#af1a32 255px,#b31e0f 256px,#bd2a00 257px,#c63900 258px,#c73a00 272px,#b92500 280px,#b21d18 281px,#ab174e 282px,#a9165d 283px,#ad193e 289px,#ac1844 290px,#aa1756 291px,#a3118d 293px,#9f0fa3 294px,#9a0cc1 297px,#8f08eb 300px,#8c07f3 302px,#9109e5 304px,#9b0dba 307px,#a00fa1 310px,#a21194 311px,#a71470 312px,#ac1845 313px,#af1a32 314px,#b62100 318px,#bd2b00 321px,#c73a00 323px,#c73900 329px,#b72300 339px,#b41f04 340px,#b21d15 341px,#b82400 343px,#c83c00 347px,#cd4500 348px,#ce4700 349px,#c13000 352px,#b92600 356px,#b21e14 357px,#ad193f 358px,#aa165a 361px,#a81567 363px,#a7146f 368px)"></i><i style="top:194px;height:4px;background:linear-gradient(90deg,#7102f1 0px,#7402f6 10px,#7502f7 15px,#7102f0 22px,#7a03fc 36px,#7102f1 44px,#7603f9 53px,#6c01e5 73px,#6d02e9 85px,#6701d9 92px,#6301cf 102px,#6501d4 109px,#5e01c1 115px,#5c01bb 122px,#6101c8 126px,#5c01ba 135px,#5e01c0 150px,#5f01c3 153px,#6b01e3 157px,#6901e0 162px,#7202f2 171px,#7c03fe 181px,#7b03fd 199px,#7903fc 209px,#7e04ff 217px,#8706fa 221px,#8e08ed 222px,#a3118d 224px,#ab184b 225px,#b52100 226px,#b92500 228px,#b72300 229px,#b11d19 230px,#950ad8 233px,#8e08ec 234px,#8d07f0 240px,#8d07ee 242px,#950ad7 243px,#b72300 244px,#d45500 245px,#de6e00 246px,#e17800 247px,#e17800 248px,#df7100 249px,#c73900 252px,#ba2700 253px,#b11d1a 254px,#af1a32 255px,#b31e0f 256px,#bd2a00 257px,#c63900 258px,#c73a00 272px,#b92500 280px,#b21d18 281px,#ab174e 282px,#a9165d 283px,#ad193d 289px,#ad1843 290px,#aa1755 291px,#a3118c 293px,#9f0fa2 294px,#9a0cc0 297px,#8f08eb 300px,#8c07f2 302px,#9109e4 304px,#9b0db9 307px,#a0109e 310px,#a21191 311px,#ad193f 313px,#af1b2c 314px,#b21d16 316px,#b42002 317px,#c02e00 321px,#ca3f00 323px,#cb4000 328px,#b82400 339px,#b52000 340px,#b21e12 341px,#b41f05 342px,#bf2d00 344px,#ca3f00 347px,#cf4800 348px,#d04a00 349px,#c63700 351px,#bb2800 356px,#b31f0b 357px,#ae193b 358px,#ab174f 360px,#a81566 363px,#a7146d 368px)"></i><i style="top:198px;height:5px;background:linear-gradient(90deg,#6e02eb 0px,#6f02ee 9px,#7402f5 14px,#6d02e8 19px,#6e02ec 26px,#7803fb 36px,#6d02e9 44px,#7502f7 52px,#6a01e1 65px,#6701d9 75px,#6a01e1 84px,#6201cb 91px,#5f01c2 102px,#6301ce 108px,#5b01b6 116px,#5900b2 122px,#5f01c2 126px,#5800af 134px,#5900b1 149px,#5a01b5 153px,#6801dd 157px,#6601d8 160px,#6501d6 162px,#6e02eb 169px,#7903fc 181px,#7803fb 198px,#7402f6 208px,#7b03fd 217px,#8505fc 221px,#8b07f4 222px,#9b0dba 224px,#a41281 225px,#af1b2f 226px,#b31e0f 227px,#b31e0f 228px,#b11d1a 229px,#a3118d 231px,#9109e4 233px,#8c07f1 234px,#8b07f3 241px,#8c07f2 242px,#9309dd 243px,#b52000 244px,#d24f00 245px,#da6300 246px,#dd6c00 247px,#db6600 249px,#c53700 252px,#ba2700 253px,#b11d1b 254px,#ae1a34 255px,#b21e11 256px,#bd2a00 257px,#c63900 258px,#c73a00 272px,#b92500 280px,#b21d18 281px,#ab174e 282px,#a9165d 283px,#ad193f 288px,#ad193d 289px,#ad1942 290px,#aa1754 291px,#9f0fa2 294px,#9a0cbf 297px,#9309df 299px,#8d07f1 301px,#8e08ed 303px,#950ad5 305px,#9c0db8 307px,#a0109d 310px,#a2118f 311px,#a81569 312px,#ad193c 313px,#b01b28 314px,#b21e12 316px,#b52000 317px,#c13100 321px,#cd4400 323px,#cd4500 328px,#b92500 339px,#b52000 340px,#b21e11 341px,#b42003 342px,#c63800 346px,#cf4900 348px,#d04b00 349px,#c63700 351px,#bb2800 356px,#b31f0a 357px,#ae1939 358px,#ac1847 359px,#a81565 363px,#a7146d 368px)"></i><i style="top:203px;height:4px;background:linear-gradient(90deg,#6a01e2 0px,#6b01e3 8px,#7102f1 13px,#6901de 19px,#6901e0 25px,#7002ef 30px,#7502f8 36px,#6901e0 44px,#7202f2 51px,#6d02e8 58px,#6501d6 64px,#6101c9 74px,#6501d6 84px,#5c01b9 91px,#5a00b4 102px,#6001c6 108px,#5700ab 115px,#5600a6 122px,#5c01ba 126px,#5800ae 130px,#5400a1 134px,#5400a2 149px,#5500a5 153px,#5d01bd 155px,#6501d6 157px,#6401d3 159px,#6101c9 161px,#6b01e3 169px,#7502f8 181px,#7602f8 197px,#6f02ec 206px,#7703fa 217px,#8204fe 220px,#8706fa 222px,#9209e2 224px,#990cc2 225px,#a2118f 226px,#a51379 227px,#a51379 228px,#a41281 229px,#980bcb 231px,#8d07f0 233px,#8906f8 237px,#8a06f5 242px,#9109e3 243px,#b31e0e 244px,#cf4900 245px,#d75b00 246px,#d96200 247px,#d85d00 249px,#ba2600 253px,#b11c1d 254px,#ae1a38 255px,#b21d15 256px,#bd2a00 257px,#c63900 258px,#c73a00 272px,#b92500 280px,#b21d18 281px,#ab174e 282px,#a9165d 283px,#ad193c 289px,#ad1942 290px,#aa1754 291px,#9f0fa2 294px,#9a0cc0 297px,#8f08ea 300px,#8c07f2 302px,#9109e3 304px,#9c0db8 307px,#a0109d 310px,#a2118f 311px,#a81568 312px,#ae1939 313px,#b01c26 314px,#b52100 317px,#c23200 321px,#ce4700 323px,#ce4700 328px,#b92500 339px,#b52000 340px,#b21e11 341px,#b42002 342px,#cb4000 347px,#cf4900 348px,#d04b00 349px,#c63700 351px,#bb2800 356px,#b31f0a 357px,#ae1939 358px,#ac1847 359px,#a81565 363px,#a7146d 368px)"></i><i style="top:207px;height:4px;background:linear-gradient(90deg,#6701d9 0px,#6701db 8px,#6f02ec 13px,#6501d5 19px,#6601d6 25px,#6d02ea 30px,#7402f6 35px,#6b01e3 41px,#6601d6 43px,#6f02ed 51px,#6901e0 58px,#6101cb 64px,#5c01bb 74px,#6201cb 84px,#5700aa 91px,#5600a7 102px,#5d01be 108px,#5800ae 112px,#5400a1 115px,#53009c 122px,#5a00b3 126px,#5700aa 129px,#510097 133px,#500095 149px,#510098 153px,#5400a2 154px,#5f01c4 156px,#6301cf 157px,#6201cb 159px,#5d01be 161px,#6201cb 165px,#6801dc 169px,#7202f3 181px,#7502f6 195px,#6b01e3 205px,#7102f0 216px,#7d04fe 219px,#8806f9 223px,#8b07f3 224px,#9108e6 225px,#970bce 226px,#990cc4 227px,#980cc8 229px,#8f08e9 231px,#8806f9 234px,#8806f8 242px,#9008e8 243px,#b11c1e 244px,#cd4400 245px,#d45300 246px,#d65900 248px,#d55500 249px,#b92500 253px,#b01c23 254px,#ad193c 255px,#b11d19 256px,#bc2a00 257px,#c63800 258px,#c73a00 272px,#b92500 280px,#b21d18 281px,#ab174e 282px,#a9165d 283px,#ad193c 289px,#ad1941 290px,#aa1754 291px,#9f0fa2 294px,#9a0cc0 297px,#8f08eb 300px,#8c07f2 302px,#9109e4 304px,#9b0db8 307px,#a0109d 310px,#a2118f 311px,#a81567 312px,#ae1a38 313px,#b01c24 314px,#b52100 317px,#c33300 321px,#cf4900 323px,#cf4800 328px,#b92500 339px,#b52000 340px,#b21e11 341px,#b42002 342px,#cf4900 348px,#d04b00 349px,#c63700 351px,#bb2800 356px,#b31f0a 357px,#ae1939 358px,#ac1847 359px,#a81566 363px,#a7146d 368px)"></i><i style="top:211px;height:5px;background:linear-gradient(90deg,#6301cf 0px,#6401d1 8px,#6b01e5 12px,#6b01e5 14px,#6201cc 18px,#6201cc 25px,#6a01e2 29px,#7202f2 35px,#6a01e1 40px,#6201cb 43px,#6d02e8 51px,#6601d8 58px,#5e01c1 63px,#5800af 74px,#5e01c0 84px,#53009d 91px,#52009b 102px,#5a01b5 108px,#5700ab 111px,#510097 115px,#4f0090 121px,#5700aa 126px,#5400a1 129px,#4e008c 133px,#4d008a 150px,#4e008d 153px,#510097 154px,#5d01bc 156px,#6001c7 157px,#5f01c3 159px,#5a01b5 161px,#5f01c2 165px,#6501d5 169px,#6f02ed 181px,#7202f3 194px,#6701d9 205px,#6d02e9 216px,#7b03fd 219px,#8505fc 223px,#8f08ec 227px,#8605fc 235px,#8605fb 242px,#8e07ee 243px,#af1a32 244px,#ca3e00 245px,#d04b00 246px,#d25000 248px,#d14d00 249px,#b72300 253px,#af1b2d 254px,#ad1942 255px,#b11c1f 256px,#bc2900 257px,#c63800 258px,#c63800 272px,#b82400 280px,#b11d1b 281px,#ab1750 282px,#a9165e 283px,#ad193f 288px,#ad193d 289px,#ad1942 290px,#aa1755 291px,#9f0fa3 294px,#9a0cc1 297px,#8f08ec 300px,#8c07f3 302px,#9109e4 304px,#9b0db9 307px,#9e0eaa 309px,#a2118f 311px,#a81566 312px,#ae1a36 313px,#b01c22 314px,#b62100 317px,#c43400 321px,#d04b00 323px,#cf4900 328px,#b92500 339px,#b52000 340px,#b21e11 341px,#b42001 342px,#c43500 345px,#cf4900 348px,#d04b00 349px,#c63700 351px,#bb2800 356px,#b31f0a 357px,#ae1939 358px,#ac1847 359px,#a81566 363px,#a7146e 368px)"></i><i style="top:216px;height:4px;background:linear-gradient(90deg,#5f01c5 0px,#6001c7 8px,#6901e0 13px,#6601d8 15px,#5e01c1 18px,#5e01c1 25px,#6701db 29px,#7002ef 35px,#6b01e3 38px,#6501d3 41px,#5e01c1 43px,#5e01c1 44px,#6401d2 47px,#6a01e3 51px,#6501d5 57px,#5b01b7 63px,#5500a5 74px,#5b01b6 84px,#500094 91px,#4f0092 102px,#5800ad 108px,#5400a2 111px,#4e008e 115px,#4c0088 121px,#4f0091 123px,#5500a3 126px,#520099 129px,#4b0084 133px,#4a0081 149px,#4b0085 153px,#4e008f 154px,#5a01b5 156px,#5e01c1 157px,#5e01c2 158px,#5800ad 161px,#5c01ba 165px,#6201cb 168px,#6c01e7 181px,#6f02ed 194px,#6301d0 205px,#6a01e2 216px,#7903fc 219px,#8505fc 225px,#8405fd 242px,#8b07f4 243px,#ac1849 244px,#c63800 245px,#cd4600 247px,#cc4300 249px,#bd2b00 252px,#b52000 253px,#ae193b 254px,#ab174d 255px,#b01b28 256px,#bc2800 257px,#c63800 258px,#c63800 269px,#b62200 280px,#b01b28 281px,#aa1657 282px,#a81564 283px,#ad1941 289px,#ac1846 290px,#aa1658 291px,#a2118e 293px,#9f0fa4 294px,#9a0cc2 297px,#8e08ec 300px,#8c07f3 301px,#8d07ef 303px,#950ad7 305px,#9b0dba 307px,#a0109e 310px,#a2118f 311px,#a81566 312px,#ae1a35 313px,#b11c20 314px,#b62200 317px,#c43500 321px,#d14d00 323px,#d04a00 328px,#b92500 339px,#b52000 340px,#b21e11 341px,#b42001 342px,#c53600 345px,#cf4900 348px,#d04b00 349px,#c63700 351px,#bb2800 356px,#b31f0a 357px,#ae1939 358px,#ac1847 359px,#a81567 363px,#a7146f 368px)"></i><i style="top:220px;height:4px;background:linear-gradient(90deg,#5c01bb 0px,#5d01be 8px,#6601d8 12px,#6601d8 14px,#5b01b7 18px,#5b01b7 25px,#6501d4 29px,#6e02ec 35px,#6501d3 40px,#5b01b7 43px,#5b01b7 44px,#6201cb 47px,#6801dd 51px,#6601d8 54px,#6101c9 58px,#5800af 63px,#53009d 74px,#5800ae 84px,#4e008c 91px,#4d008a 102px,#5500a5 108px,#52009b 111px,#4c0087 115px,#4a0081 121px,#4d008a 123px,#52009c 126px,#4f0092 129px,#49007d 133px,#48007b 149px,#49007f 153px,#4c0089 154px,#5800af 156px,#5c01bb 157px,#5d01bc 158px,#5600a7 161px,#5a00b4 165px,#6001c7 169px,#6a01e1 182px,#6d02e8 194px,#6001c7 205px,#6801dc 216px,#7703fa 219px,#8204ff 224px,#8204ff 242px,#8906f8 243px,#a91660 244px,#c23200 245px,#c83c00 247px,#c43500 250px,#bb2700 252px,#b21e11 253px,#aa1754 254px,#a81568 255px,#ad193e 256px,#ba2700 257px,#c63800 258px,#c73900 267px,#b62200 279px,#b31f08 280px,#ae1a38 281px,#a91560 282px,#a7146b 283px,#ac1847 289px,#ab174c 290px,#a9165e 291px,#9f0fa6 294px,#990cc3 297px,#8e08ed 300px,#8b07f4 302px,#9008e6 304px,#9b0dbb 307px,#9e0eab 309px,#a2118f 311px,#a81565 312px,#ae1a34 313px,#b11c1f 314px,#b62200 317px,#c43500 321px,#d14e00 323px,#d04b00 328px,#b92500 339px,#b52000 340px,#b21e11 341px,#b42001 342px,#c53600 345px,#cf4900 348px,#d04b00 349px,#c63700 351px,#bb2800 356px,#b31f0a 357px,#ae1939 358px,#ab174f 360px,#a81569 363px,#a71470 368px)"></i><i style="top:224px;height:4px;background:linear-gradient(90deg,#5900b1 0px,#5a00b4 8px,#6401d1 12px,#6401d1 14px,#5800ac 18px,#5800ac 25px,#6201cd 29px,#6d02e8 35px,#6901e0 37px,#5f01c4 41px,#5800ac 43px,#5800ad 44px,#5f01c3 47px,#6601d8 51px,#6001c7 57px,#5600a6 63px,#500095 74px,#5500a5 84px,#4b0085 91px,#4a0082 102px,#53009d 108px,#500093 111px,#49007f 115px,#49007c 122px,#500094 126px,#4f0090 128px,#460076 133px,#460074 148px,#470078 153px,#4a0082 154px,#5600a8 156px,#5a01b5 157px,#5b01b6 158px,#5400a1 161px,#5800ad 165px,#5d01be 168px,#6701d9 181px,#6a01e1 194px,#5d01be 205px,#6501d6 216px,#7502f8 219px,#7d04ff 222px,#7f04ff 242px,#8605fb 243px,#a61378 244px,#be2c00 245px,#c33300 248px,#b72300 252px,#af1b2b 253px,#a61377 254px,#a2118f 255px,#a9165d 256px,#b92500 257px,#c63700 258px,#c83b00 261px,#c43400 268px,#b42000 278px,#b31f0a 279px,#b11d1d 280px,#ac1845 281px,#a81566 282px,#a7146f 283px,#ab1752 288px,#aa1754 290px,#a5137c 292px,#9e0fa9 294px,#990cc5 297px,#8d07ee 300px,#8a07f5 302px,#9008e8 304px,#9b0dbd 307px,#9e0eac 309px,#a2118f 311px,#a81565 312px,#ae1a34 313px,#b11c1f 314px,#b41f07 316px,#b62200 317px,#c53600 321px,#d24f00 323px,#d04b00 328px,#b92500 339px,#b52000 340px,#b21e11 341px,#b42001 342px,#c53600 345px,#cf4900 348px,#d04b00 349px,#c63700 351px,#bb2800 356px,#b31f0a 357px,#ae1939 358px,#aa165a 361px,#a8156a 363px,#a71472 368px)"></i><i style="top:228px;height:4px;background:linear-gradient(90deg,#5600a6 0px,#5700a9 8px,#6101c9 12px,#6101c9 14px,#5400a0 18px,#53009d 24px,#5700aa 26px,#6001c5 29px,#6b01e4 35px,#6801db 37px,#5c01bb 41px,#5400a0 43px,#5400a1 44px,#5c01bb 47px,#6401d2 51px,#5e01c0 57px,#53009c 63px,#4d008c 74px,#52009c 84px,#49007c 91px,#48007a 102px,#500095 108px,#4d008a 111px,#470077 115px,#450072 121px,#4e008d 126px,#4b0083 129px,#44006e 133px,#44006e 150px,#450071 153px,#48007b 154px,#5400a2 156px,#5800ae 157px,#5900af 158px,#52009a 161px,#5800ac 166px,#5c01b9 169px,#6401d1 181px,#6701da 194px,#5d01be 202px,#5a00b4 204px,#5d01bc 209px,#6301ce 216px,#7302f5 219px,#7c03fe 222px,#7d04ff 242px,#8305fe 243px,#a21191 244px,#ba2600 245px,#bf2d00 248px,#b92500 251px,#b31e0c 252px,#ab174f 253px,#a0109b 254px,#9d0eb2 255px,#a5137c 256px,#b62200 257px,#c43500 258px,#c73900 261px,#c13000 268px,#b52100 274px,#b01c22 279px,#af1a30 280px,#a8156a 282px,#a71471 283px,#aa1658 289px,#a9165d 290px,#a7146c 291px,#9e0eac 294px,#990cc6 297px,#9109e5 299px,#8a07f5 301px,#8c07f2 303px,#940adb 305px,#9a0cbf 307px,#9d0eae 309px,#a2118f 311px,#a81565 312px,#ae1a33 313px,#b11c1e 314px,#b62200 317px,#c53600 321px,#d24f00 323px,#d04b00 328px,#b92500 339px,#b52000 340px,#b21e11 341px,#b42001 342px,#c53600 345px,#cf4900 348px,#d04b00 349px,#c63700 351px,#bb2800 356px,#b31f0a 357px,#ae1939 358px,#a81566 362px,#a7146f 365px,#a61474 368px)"></i><i style="top:232px;height:4px;background:linear-gradient(90deg,#52009a 0px,#53009d 8px,#5e01c1 12px,#5e01c1 14px,#500094 18px,#4f0090 22px,#500094 25px,#5b01b6 28px,#6901e0 35px,#6601d6 37px,#5900b1 41px,#500094 43px,#500095 44px,#5700ac 46px,#6201cb 51px,#6101c8 53px,#5500a5 60px,#500092 63px,#4a0082 74px,#4f0092 84px,#460073 91px,#450070 102px,#4d008c 108px,#4a0082 111px,#44006e 115px,#43006a 121px,#4b0085 126px,#48007b 129px,#410066 133px,#420067 151px,#42006a 153px,#460074 154px,#52009a 156px,#5600a7 157px,#5600a8 158px,#500093 161px,#53009f 165px,#5900b1 169px,#6001c7 181px,#6401d1 194px,#5600a8 205px,#6001c5 216px,#7102f1 219px,#7903fc 221px,#7b03fd 242px,#8004ff 243px,#9e0eac 244px,#b42000 245px,#ba2600 248px,#b62200 250px,#b31f0a 251px,#ae193a 252px,#9b0db8 254px,#980cc7 255px,#a21193 256px,#b41f04 257px,#c33200 258px,#c53600 262px,#be2c00 268px,#b52000 272px,#b21d16 273px,#ae1a33 274px,#ac1845 275px,#ac1849 276px,#ad193c 279px,#ac1845 280px,#a7146d 282px,#a61472 283px,#a91563 289px,#a81567 290px,#a61375 291px,#9d0eb1 294px,#980bca 297px,#8d07f1 300px,#8a06f7 302px,#8f08ea 304px,#990cc2 307px,#9d0eb2 309px,#a21193 311px,#a81568 312px,#ae1a35 313px,#b11c20 314px,#b62200 317px,#c53600 321px,#d24f00 323px,#d04b00 328px,#b92500 339px,#b42000 340px,#b21d16 341px,#b41f05 342px,#c13000 344px,#cf4900 348px,#cf4a00 349px,#c33200 352px,#c02e00 355px,#bb2700 356px,#b31e0d 357px,#ad193d 358px,#a7146b 362px,#a61474 365px,#a61379 368px)"></i><i style="top:236px;height:3px;background:linear-gradient(90deg,#4f008f 0px,#500093 8px,#5c01ba 12px,#5c01ba 14px,#4c0088 18px,#4b0084 22px,#4b0084 24px,#500093 26px,#5800ae 28px,#6101c8 32px,#6701d9 34px,#6701da 36px,#5700a9 41px,#4c0088 43px,#4d0089 44px,#5500a3 46px,#6001c5 51px,#5f01c2 53px,#5700a9 58px,#4d0089 63px,#480079 74px,#4d0089 84px,#43006b 91px,#420069 102px,#4b0084 108px,#460074 112px,#420067 115px,#400063 121px,#49007e 126px,#460074 129px,#3f005f 133px,#3f0060 150px,#400063 153px,#44006d 154px,#500094 156px,#5400a1 157px,#5400a2 158px,#4e008d 161px,#510098 165px,#5700aa 169px,#5e01bf 182px,#6101ca 194px,#5600a9 202px,#53009d 205px,#5d01be 216px,#7002ee 219px,#7803fa 221px,#7903fc 241px,#7803fb 242px,#7e04ff 243px,#990cc4 244px,#af1b2f 245px,#b31e0e 246px,#b42002 247px,#b42002 248px,#b31f0a 249px,#ae193a 251px,#a81565 252px,#970bcc 254px,#950ad5 255px,#9f0fa5 256px,#b21d18 257px,#c13000 258px,#c23100 263px,#ba2700 268px,#b62200 269px,#b21d17 271px,#b01b28 272px,#a81565 274px,#a61379 275px,#a5137a 276px,#aa1755 279px,#aa1658 280px,#a71471 282px,#a71472 285px,#a7146d 289px,#a71472 290px,#a5127f 291px,#9c0db7 294px,#970bce 297px,#8c07f2 300px,#8906f7 302px,#8e08ec 304px,#980cc7 307px,#9c0db7 309px,#a11099 311px,#a7146e 312px,#ad193c 313px,#b01c26 314px,#b52100 317px,#c43500 321px,#d14e00 323px,#d24f00 325px,#ce4600 329px,#b72300 339px,#b01b28 341px,#b82500 343px,#c43500 345px,#cd4600 348px,#ce4700 349px,#c43400 351px,#bf2d00 355px,#ba2600 356px,#b11d19 357px,#ac184a 358px,#a7146e 361px,#a5127f 363px,#a41286 368px)"></i><i style="top:239px;height:4px;background:linear-gradient(90deg,#4c0086 0px,#4d0089 8px,#5a00b3 12px,#5b01b6 13px,#5600a8 15px,#49007e 18px,#48007a 22px,#48007a 24px,#4d008a 26px,#5600a6 28px,#5f01c2 32px,#6501d4 34px,#6601d8 35px,#6201cc 37px,#5400a0 41px,#49007e 43px,#4a007f 44px,#52009a 46px,#5e01bf 51px,#5b01b6 54px,#500094 60px,#4a0081 63px,#450071 74px,#4a0080 84px,#410064 91px,#400061 102px,#49007d 108px,#450073 111px,#3f0060 115px,#3e005c 121px,#470077 126px,#450073 128px,#3c0058 133px,#3d005a 150px,#3e005d 153px,#420067 154px,#4e008e 156px,#52009b 157px,#53009c 158px,#4c0087 161px,#4f0092 165px,#5500a3 169px,#5b01b7 181px,#5f01c2 194px,#5400a0 202px,#500095 205px,#5b01b6 216px,#6e02ea 219px,#7302f5 220px,#7903fc 227px,#7703fa 241px,#7602f8 242px,#7a03fd 243px,#940ada 244px,#a81567 245px,#ab174e 246px,#ac1846 247px,#ac184b 249px,#a7146e 251px,#9309dd 254px,#9209e0 255px,#9c0db4 256px,#af1b2b 257px,#bf2d00 258px,#bf2d00 263px,#b52100 268px,#ad193f 270px,#aa165b 272px,#a31288 274px,#a11096 275px,#a11096 276px,#a7146e 279px,#a5137f 290px,#a0109d 292px,#9a0dbe 294px,#960ad3 297px,#8b07f3 300px,#8806f8 302px,#8d07ee 304px,#9d0eb1 310px,#9f0fa1 311px,#a61379 312px,#ac1847 313px,#af1a32 314px,#b11d1b 316px,#b42002 317px,#c33300 321px,#d14d00 323px,#ce4800 328px,#ba2700 337px,#b42002 339px,#af1b2d 340px,#ac1845 341px,#ae1a33 342px,#b62200 343px,#c33200 345px,#cb4200 349px,#c12f00 351px,#bd2a00 355px,#b82400 356px,#a91560 358px,#a61378 360px,#a3118e 362px,#a1109a 368px)"></i><i style="top:243px;height:4px;background:linear-gradient(90deg,#48007c 0px,#4a007f 8px,#5700aa 12px,#5800ae 13px,#5700aa 14px,#460074 18px,#450070 22px,#450070 24px,#4a0080 26px,#53009d 28px,#5c01ba 32px,#6201cd 34px,#6401d1 35px,#6301ce 36px,#510097 41px,#460074 43px,#460076 44px,#4f0090 46px,#5b01b7 51px,#5a00b3 53px,#4d008b 60px,#470078 63px,#420069 74px,#470077 84px,#3e005d 91px,#3d005a 102px,#460074 108px,#43006b 111px,#3d0059 115px,#3b0055 121px,#450070 126px,#3f0060 130px,#3a0051 133px,#3b0054 151px,#3c0056 153px,#3f0061 154px,#4c0088 156px,#500095 157px,#510096 158px,#4a0080 161px,#4d008b 165px,#52009b 169px,#5900b0 182px,#5c01ba 194px,#510099 202px,#4e008d 205px,#5800af 216px,#6c01e6 219px,#7402f6 221px,#7803fb 231px,#7703f9 240px,#7302f4 242px,#7703fa 243px,#8d07ee 244px,#9f0fa3 245px,#a11095 246px,#a21190 248px,#a21193 249px,#9f0fa7 251px,#8f08eb 254px,#8f08e9 255px,#990cc3 256px,#ad1940 257px,#bd2a00 258px,#bd2b00 262px,#b42000 266px,#b31e0f 267px,#af1a30 268px,#aa1658 269px,#a61376 270px,#a41284 271px,#9e0fa8 275px,#9e0fa8 276px,#a3118a 279px,#a41286 284px,#a21190 290px,#980cc8 294px,#8806f9 301px,#8906f7 303px,#980cc7 309px,#9e0ead 311px,#a41287 312px,#aa1659 313px,#ac1845 314px,#af1b2e 316px,#b72200 318px,#c23100 321px,#d04b00 323px,#d04b00 325px,#c02e00 334px,#b42000 338px,#ab1751 340px,#a81568 341px,#aa1755 342px,#b21e10 343px,#bb2800 344px,#c73a00 348px,#c73a00 349px,#bc2900 351px,#ba2700 355px,#b52100 356px,#ac184b 357px,#a5137d 358px,#a21193 360px,#9f0fa7 362px,#9d0eb1 367px,#9d0eb2 368px)"></i><i style="top:247px;height:3px;background:linear-gradient(90deg,#460074 0px,#460074 7px,#4a0081 9px,#5500a2 12px,#5600a6 13px,#5400a2 14px,#44006d 18px,#420068 23px,#44006d 25px,#500095 28px,#5a00b2 32px,#6001c6 34px,#6101ca 35px,#6001c7 36px,#4f008f 41px,#44006d 43px,#44006e 44px,#4c0088 46px,#5800af 51px,#5700ab 53px,#450071 63px,#400062 74px,#44006f 84px,#3c0056 91px,#3b0054 102px,#44006e 108px,#3b0053 115px,#3a0052 122px,#420069 126px,#3f0060 129px,#38004c 133px,#39004f 152px,#3a0051 153px,#3e005b 154px,#4b0083 156px,#4f0090 157px,#4f0091 158px,#48007b 161px,#4d008a 166px,#500094 169px,#5700aa 182px,#5a00b4 194px,#4c0088 205px,#5700a9 216px,#6a01e2 219px,#7002ee 220px,#7603f9 225px,#7502f7 240px,#7002f0 242px,#7402f5 243px,#8806f9 244px,#980bc9 245px,#9b0dbd 247px,#9a0cbf 249px,#980bcb 251px,#8b07f4 254px,#8d07ef 255px,#970bcd 256px,#ab1751 257px,#bb2700 258px,#ba2700 262px,#b72300 263px,#b31e0c 264px,#af1b2b 265px,#ac1848 267px,#a5137e 269px,#a21194 270px,#9c0eb3 275px,#9f0fa1 280px,#9f0fa3 290px,#960bd1 294px,#8706fa 301px,#8b07f3 304px,#960bd0 309px,#9b0db8 311px,#a11096 312px,#a7146b 313px,#aa1658 314px,#ad1942 316px,#b01b28 317px,#b42000 318px,#c02f00 321px,#cf4a00 323px,#cf4800 325px,#bf2e00 333px,#b72300 335px,#b31e0f 336px,#ae1a37 338px,#a61378 340px,#a3118a 341px,#a61375 342px,#af1b2f 343px,#b92500 344px,#c43400 349px,#b62200 351px,#b31f0b 352px,#b52100 353px,#b82400 355px,#b21d15 356px,#a81566 357px,#a11097 358px,#9e0eab 360px,#9a0cc0 363px,#990cc5 368px)"></i><i style="top:250px;height:4px;background:linear-gradient(90deg,#44006d 0px,#450070 8px,#52009b 12px,#52009b 14px,#410066 18px,#400062 22px,#410066 25px,#510096 29px,#5400a0 31px,#5d01be 34px,#5f01c2 35px,#5e01bf 36px,#4c0088 41px,#410066 43px,#420067 44px,#4a0080 46px,#5600a6 51px,#5500a3 53px,#43006a 63px,#3d005b 74px,#420068 84px,#3a0051 91px,#39004e 102px,#420067 108px,#3d0059 112px,#38004d 115px,#38004d 122px,#400063 126px,#3d005a 129px,#360047 133px,#370049 150px,#38004c 153px,#3c0056 154px,#49007e 156px,#4d008b 157px,#4e008d 158px,#470076 161px,#49007f 165px,#4e008e 169px,#5500a4 181px,#5800ae 194px,#4b0085 204px,#4d008a 208px,#5500a3 216px,#5a00b3 217px,#6801dd 219px,#6e02ea 220px,#7402f6 224px,#7402f6 239px,#6e02ea 242px,#7002ef 243px,#8305fe 244px,#9109e3 245px,#940adb 247px,#9209e1 250px,#8806f9 254px,#8b07f3 255px,#960ad4 256px,#a91660 257px,#b82400 258px,#b92500 261px,#b62200 262px,#b21e14 263px,#ad1940 264px,#a81565 265px,#a61378 266px,#a3118c 268px,#9f0fa5 270px,#9b0dba 275px,#9a0dbd 290px,#9309de 294px,#8605fb 301px,#8a06f6 304px,#950ad5 310px,#980bca 311px,#9e0eab 312px,#a41283 313px,#a61472 314px,#a9165e 316px,#ac1845 317px,#b11d1d 318px,#b52100 319px,#bd2b00 321px,#ce4600 323px,#cd4400 325px,#b72300 334px,#b11c1e 335px,#ab1750 336px,#a81569 337px,#a61377 338px,#9f0fa2 340px,#9d0eae 341px,#a11099 342px,#aa1754 343px,#b52000 344px,#be2c00 347px,#bf2d00 349px,#b82400 350px,#ae1a34 351px,#ab174d 352px,#af1a31 353px,#b31e0c 354px,#b41f05 355px,#ae1a38 356px,#a31289 357px,#9c0db7 358px,#9a0cc2 359px,#950ad5 363px,#940ad9 368px)"></i><i style="top:254px;height:3px;background:linear-gradient(90deg,#410065 0px,#420069 8px,#500093 12px,#500093 14px,#3f005f 18px,#3d005b 22px,#3f005f 25px,#4e008e 29px,#510098 31px,#5a01b5 34px,#5c01b9 35px,#5b01b6 36px,#4a0080 41px,#3f005f 43px,#3f0060 44px,#470078 46px,#53009e 51px,#52009a 53px,#400063 63px,#3b0054 74px,#3f0060 84px,#37004b 91px,#370049 102px,#3f0060 108px,#3c0058 111px,#360048 115px,#360047 122px,#3e005d 126px,#3b0054 129px,#340041 133px,#350045 152px,#360047 153px,#3a0051 154px,#480079 156px,#4c0087 157px,#4c0088 158px,#450071 161px,#49007e 166px,#4c0088 170px,#53009e 181px,#5600a8 194px,#4a007f 205px,#510097 215px,#53009d 216px,#5800ad 217px,#6601d8 219px,#6c01e6 220px,#7302f4 224px,#7202f3 237px,#6d02e9 241px,#6b01e3 242px,#6d02e8 243px,#7d04ff 244px,#8b07f5 245px,#8d07ef 248px,#8505fc 254px,#8a06f7 255px,#940ad9 256px,#b62200 258px,#b42001 261px,#b21d16 262px,#a8156a 264px,#a3118d 265px,#a0109e 266px,#960ad3 279px,#950ad8 290px,#8e08ed 295px,#8505fc 301px,#8c07f2 306px,#9109e5 310px,#9309de 311px,#980cc7 312px,#9e0ea9 313px,#a2118e 316px,#a61376 317px,#b01b27 319px,#b31e0e 320px,#b92500 321px,#cc4200 323px,#cc4400 324px,#b62100 333px,#b11d1a 334px,#ab1752 335px,#a41282 336px,#a11099 337px,#9a0cc2 340px,#980bca 341px,#9b0db9 342px,#a5137f 343px,#af1b2f 344px,#b42000 345px,#b82400 349px,#b11c1d 350px,#a71471 351px,#a31288 352px,#a81569 353px,#ad193e 354px,#ae1a33 355px,#a81564 356px,#9e0eac 357px,#960bd2 358px,#9309dd 360px,#9008e7 366px,#9008e8 368px)"></i><i style="top:257px;height:4px;background:linear-gradient(90deg,#3e005e 0px,#400061 8px,#4d008b 12px,#4d008b 14px,#3c0057 18px,#3b0053 22px,#3b0053 24px,#400062 26px,#49007d 28px,#520099 32px,#5900b1 35px,#5800ae 36px,#470078 41px,#3c0057 43px,#3c0058 44px,#460076 47px,#500095 51px,#4f0091 53px,#3f005f 62px,#38004d 74px,#3d0058 84px,#350045 91px,#340043 102px,#3d005a 108px,#340042 115px,#340041 122px,#3c0057 126px,#31003b 134px,#33003f 152px,#340041 153px,#38004b 154px,#460074 156px,#4a0082 157px,#4b0083 158px,#43006c 161px,#460073 165px,#4a0081 169px,#510098 182px,#5400a1 194px,#48007b 204px,#4b0082 209px,#4f0090 215px,#510096 216px,#5d01be 218px,#6401d3 219px,#6a01e1 220px,#7102f1 224px,#7102f0 236px,#6d02e8 240px,#6801dc 242px,#6a01e1 243px,#7903fc 244px,#8505fc 245px,#8605fb 250px,#8305fe 254px,#8806f9 255px,#9309df 256px,#a61379 257px,#b41f05 258px,#b41f07 259px,#b01b28 260px,#ab174d 262px,#a3118d 264px,#9e0fa7 265px,#9c0db4 266px,#990cc4 273px,#970bce 276px,#9109e5 279px,#8505fd 303px,#8e08ed 311px,#960bd1 313px,#990cc3 316px,#9d0ead 317px,#a9165f 319px,#ac1844 320px,#b31f0a 321px,#bf2e00 322px,#c83b00 323px,#c63700 325px,#b72300 330px,#b31e0d 331px,#b01c25 332px,#ae1a36 333px,#aa1657 334px,#a41285 335px,#9e0eab 336px,#9b0dbc 337px,#940adc 341px,#960bd0 342px,#9e0fa8 343px,#a7146f 344px,#ac184b 345px,#b01b27 348px,#af1b2e 349px,#a81565 350px,#9f0fa6 351px,#9c0db7 352px,#a00fa0 353px,#a5137f 354px,#a61375 355px,#a11098 356px,#980bc9 357px,#9209e2 358px,#8e08ee 362px,#8c07f1 368px)"></i><i style="top:261px;height:3px;background:linear-gradient(90deg,#3c0056 0px,#3d0059 8px,#4b0083 12px,#4b0083 14px,#390050 18px,#38004b 23px,#390050 25px,#460075 28px,#4f0091 32px,#5500a4 34px,#5600a8 35px,#5500a5 36px,#44006f 41px,#390050 43px,#390050 44px,#43006d 47px,#4e008c 51px,#4c0088 53px,#420067 59px,#3b0054 63px,#360046 74px,#3a0050 84px,#33003e 91px,#32003d 102px,#3a0053 108px,#31003b 116px,#31003c 122px,#3a0050 126px,#360048 129px,#2f0037 133px,#300039 152px,#31003b 153px,#350046 154px,#44006f 156px,#49007d 157px,#49007e 158px,#410066 161px,#4f0091 181px,#52009a 194px,#460075 205px,#4d0089 215px,#4f0090 216px,#5400a0 217px,#6201cd 219px,#6801dc 220px,#6f02ed 224px,#6f02ed 236px,#6a01e3 240px,#6501d5 242px,#6701da 243px,#7602f8 244px,#8204ff 245px,#8204ff 251px,#8104ff 254px,#8605fb 255px,#9109e5 256px,#a3118b 257px,#b11c20 258px,#af1b2e 259px,#a9165e 260px,#a61377 261px,#a41284 262px,#9d0eb0 264px,#9a0cc1 265px,#980bca 266px,#970bcd 272px,#940ada 276px,#8c07f1 279px,#8305fe 302px,#8a06f6 311px,#9008e8 314px,#9109e3 316px,#960ad3 317px,#a2118f 319px,#a61376 320px,#ad1940 321px,#b92500 322px,#c23100 323px,#bf2e00 325px,#b42002 329px,#aa165a 331px,#a61473 332px,#a41281 333px,#980bcb 336px,#950ad6 337px,#9008e8 341px,#9209e2 342px,#980bcb 343px,#9e0eaa 344px,#a21094 345px,#a31288 348px,#a3118e 349px,#970bcd 351px,#950ad6 352px,#9b0dbb 354px,#9c0db7 355px,#980cc8 356px,#9209e1 357px,#8e08ee 358px,#8a06f7 368px)"></i><i style="top:264px;height:3px;background:linear-gradient(90deg,#39004f 0px,#3a0052 8px,#48007c 12px,#48007c 14px,#370049 18px,#350045 22px,#370049 25px,#44006e 28px,#4d0089 32px,#52009c 34px,#5400a0 35px,#53009d 36px,#420068 41px,#370049 43px,#370049 44px,#410065 47px,#4b0084 51px,#4a0080 53px,#44006e 56px,#39004e 63px,#330040 74px,#370049 84px,#300039 92px,#31003a 103px,#38004d 108px,#2f0037 115px,#2f0037 122px,#38004b 126px,#340043 129px,#2d0032 133px,#2e0034 152px,#2f0036 153px,#330041 154px,#43006a 156px,#470078 157px,#48007a 158px,#400062 161px,#4d008c 182px,#500093 194px,#450071 204px,#48007a 210px,#4b0084 215px,#4d008a 216px,#5900b2 218px,#6601d8 220px,#6e02ea 224px,#6f02ec 235px,#6801de 240px,#6301d0 242px,#6501d5 243px,#7402f6 244px,#8104ff 245px,#8004ff 254px,#8505fd 255px,#8e07ee 256px,#9f0fa5 257px,#ac1847 258px,#aa165a 259px,#a3118c 260px,#9f0fa4 261px,#9a0dbe 263px,#940adb 265px,#9209e1 267px,#9209e3 273px,#8d07ee 277px,#8906f8 279px,#8305fe 305px,#8c07f3 315px,#8d07f0 316px,#9109e5 317px,#9d0eb2 319px,#a0109e 320px,#a7146f 321px,#b31f09 322px,#bc2900 323px,#ba2600 325px,#b41f04 327px,#b21d16 328px,#ae1939 329px,#a3118d 331px,#9f0fa3 332px,#9b0dbc 334px,#9309df 336px,#8f08eb 339px,#8d07f0 341px,#8e08ed 342px,#990cc5 345px,#9a0dbe 348px,#9a0cc1 349px,#9209e2 351px,#9008e7 352px,#940ad9 354px,#950ad7 355px,#8b07f4 358px,#8806fa 368px)"></i><i style="top:267px;height:4px;background:linear-gradient(90deg,#360047 0px,#37004a 8px,#450073 12px,#450073 14px,#340041 18px,#32003d 22px,#340041 25px,#43006d 29px,#4a007f 32px,#4f0092 34px,#510096 35px,#500093 36px,#3f0060 41px,#340041 43px,#340041 44px,#460075 50px,#48007b 52px,#370049 62px,#300038 74px,#340041 84px,#2e0033 92px,#2e0034 103px,#350046 108px,#2d0031 115px,#2d0031 122px,#350044 126px,#32003c 129px,#2a002b 134px,#2c002f 152px,#2d0031 153px,#31003b 154px,#410065 156px,#460073 157px,#460074 158px,#3e005c 161px,#4b0085 182px,#4e008c 194px,#43006b 205px,#49007d 215px,#4b0083 216px,#5700ab 218px,#5f01c2 219px,#6401d2 220px,#6c01e6 224px,#6d02e8 235px,#6601d8 240px,#6101c9 242px,#6301cf 243px,#7302f4 244px,#8004ff 245px,#8004ff 254px,#8906f7 256px,#980bc9 257px,#a41284 258px,#a21094 259px,#9b0dbc 260px,#970bce 261px,#8c07f2 265px,#8204ff 287px,#8205fe 306px,#8906f8 316px,#8c07f2 317px,#980cc7 320px,#9f0fa1 321px,#ac1847 322px,#b52000 323px,#b52100 324px,#b21d15 325px,#ae1a36 326px,#aa1659 328px,#9c0db7 331px,#980cc7 332px,#8e07ee 336px,#8a06f7 341px,#9209e2 346px,#9209e3 349px,#8c07f2 351px,#8c07f1 353px,#8e08ec 355px,#8706fa 359px,#8505fc 368px)"></i><i style="top:271px;height:3px;background:linear-gradient(90deg,#32003e 0px,#340041 8px,#420068 12px,#43006c 13px,#3f005e 15px,#300039 18px,#2f0036 24px,#300039 25px,#3d005b 28px,#460075 32px,#4d008c 35px,#4d0089 36px,#3c0056 41px,#300039 43px,#300039 44px,#44006f 51px,#43006b 53px,#38004d 59px,#32003d 64px,#2d0032 75px,#300037 85px,#2b002c 92px,#2a002b 102px,#32003e 108px,#29002a 116px,#2a002b 122px,#32003d 126px,#270026 134px,#29002a 151px,#2b002d 153px,#2f0037 154px,#3f0060 156px,#44006e 157px,#44006f 158px,#3c0057 161px,#43006b 173px,#49007e 181px,#4b0085 194px,#410066 205px,#470076 215px,#48007c 216px,#4e008d 217px,#5c01bc 219px,#6201cc 220px,#6a01e2 224px,#6b01e4 235px,#6401d3 240px,#5f01c3 242px,#6101c9 243px,#7202f2 244px,#7f04ff 245px,#8104ff 255px,#8505fd 256px,#9008e9 257px,#980cc7 258px,#970bd0 259px,#9109e3 260px,#8605fc 265px,#7d04ff 302px,#8806fa 317px,#9109e3 320px,#980cc8 321px,#a5137f 322px,#ad193e 323px,#ae1a39 324px,#a61377 326px,#a11095 328px,#950ad6 331px,#9109e5 333px,#8806f9 337px,#8906f8 343px,#8b07f3 347px,#8706fa 353px,#8205fe 368px)"></i><i style="top:274px;height:3px;background:linear-gradient(90deg,#2f0037 0px,#310039 8px,#3e005d 12px,#3f0061 13px,#3b0054 15px,#2d0032 18px,#2d0032 25px,#3c0058 29px,#400061 31px,#49007e 34px,#4a0082 35px,#49007f 36px,#3e005d 39px,#38004c 41px,#2d0032 43px,#2d0032 44px,#400063 51px,#3f0060 53px,#38004c 57px,#2f0035 64px,#2a002b 75px,#2c0030 85px,#280026 95px,#280028 103px,#2f0037 108px,#270025 116px,#270025 122px,#2f0036 126px,#250021 134px,#270025 149px,#29002a 153px,#2e0034 154px,#3e005b 156px,#420069 157px,#43006a 158px,#3b0053 161px,#410066 173px,#470078 181px,#49007f 194px,#400061 205px,#450070 215px,#470076 216px,#4c0087 217px,#5b01b6 219px,#6001c7 220px,#6801de 224px,#6901e0 235px,#6301ce 240px,#5d01bd 242px,#5f01c4 243px,#7102f0 244px,#7e04ff 245px,#7f04ff 255px,#8706fb 257px,#8a07f5 258px,#8104ff 268px,#7c03fe 303px,#8405fd 317px,#8c07f1 320px,#9309df 321px,#a61474 323px,#a71471 324px,#9f0fa7 326px,#9008e8 331px,#8906f8 335px,#8605fc 343px,#8004ff 368px)"></i><i style="top:277px;height:3px;background:linear-gradient(90deg,#2c002f 0px,#2d0031 8px,#3a0050 12px,#3a0050 14px,#2a002b 18px,#2a002b 25px,#38004c 29px,#3b0055 31px,#460073 34px,#470078 35px,#460075 36px,#3a0051 39px,#340042 41px,#2a002b 43px,#2a002b 44px,#3c0056 51px,#38004d 54px,#2c002f 63px,#270025 75px,#290029 85px,#250021 94px,#250022 103px,#2c002f 108px,#24001f 116px,#240020 122px,#2b002e 126px,#22001c 135px,#240020 148px,#280028 153px,#2d0031 154px,#3c0057 156px,#410064 157px,#410065 158px,#39004f 161px,#410064 174px,#450073 181px,#480079 194px,#3e005d 205px,#43006b 215px,#450071 216px,#5e01c1 220px,#6701d9 224px,#6801de 234px,#6101c8 240px,#5b01b7 242px,#5d01bf 243px,#7002ee 244px,#7d03fe 245px,#8104ff 263px,#7903fc 301px,#8104ff 317px,#8706fa 320px,#8d07f0 321px,#9e0ea9 323px,#9e0fa7 324px,#970bce 326px,#8b07f5 331px,#8305fe 340px,#7d04ff 368px)"></i><i style="top:280px;height:3px;background:linear-gradient(90deg,#280027 0px,#290029 8px,#340043 12px,#340043 14px,#260024 18px,#260024 25px,#33003f 29px,#370048 31px,#420068 34px,#44006d 35px,#42006a 36px,#350044 39px,#260024 43px,#290029 45px,#360048 51px,#270026 64px,#240020 76px,#250022 85px,#21001b 96px,#22001d 103px,#280027 109px,#21001a 116px,#21001b 122px,#280026 126px,#1f0018 134px,#21001b 147px,#270026 153px,#2c002f 154px,#3a0053 156px,#3f005f 157px,#3f0060 158px,#38004b 161px,#44006d 182px,#460073 194px,#3c0058 205px,#410066 215px,#43006c 216px,#500092 218px,#5c01ba 220px,#6501d3 224px,#6501d6 235px,#5f01c3 240px,#5900b2 242px,#5c01b9 243px,#6e02ea 244px,#7b03fd 245px,#7d04ff 264px,#7602f8 302px,#7f04ff 318px,#8706fb 321px,#950ad5 323px,#960ad4 324px,#8f08ea 326px,#8405fd 332px,#7b03fd 368px)"></i><i style="top:283px;height:3px;background:linear-gradient(90deg,#24001f 0px,#250021 8px,#300038 13px,#21001b 19px,#22001d 25px,#32003c 31px,#3e005d 34px,#400062 35px,#3f005e 36px,#300038 39px,#22001d 43px,#290029 47px,#31003a 52px,#24001f 63px,#21001a 77px,#20001a 87px,#1e0016 102px,#24001f 109px,#1d0015 117px,#1f0018 123px,#23001f 127px,#1c0013 135px,#1d0015 146px,#260024 153px,#2a002c 154px,#39004e 156px,#3d0059 157px,#3b0055 159px,#360046 161px,#420067 182px,#43006d 194px,#3a0053 205px,#3f0060 215px,#410066 216px,#460075 217px,#5400a2 219px,#5a00b2 220px,#6201cd 224px,#6401d2 233px,#6201cc 236px,#5d01bd 240px,#5800ac 242px,#5a00b4 243px,#6c01e6 244px,#7903fc 245px,#7803fb 278px,#7202f3 299px,#7e04ff 320px,#8806fa 322px,#8c07f1 323px,#8204ff 330px,#7803fb 367px,#7803fb 368px)"></i><i style="top:286px;height:3px;background:linear-gradient(90deg,#200019 0px,#20001a 8px,#2a002b 13px,#1d0015 19px,#1e0017 25px,#2c0030 31px,#3a0051 34px,#3c0057 35px,#3b0053 36px,#2a002c 39px,#1e0017 43px,#2b002d 52px,#1f0018 64px,#1d0014 77px,#1c0014 88px,#1c0013 104px,#1f0017 110px,#1a0010 119px,#1e0017 128px,#19000f 136px,#1a0011 146px,#250021 153px,#290029 154px,#3b0053 157px,#39004f 159px,#340041 161px,#3f0060 182px,#410065 194px,#38004d 205px,#3d0059 215px,#3f005f 216px,#44006e 217px,#52009a 219px,#5700aa 220px,#6001c6 224px,#6101ca 235px,#5b01b8 240px,#5600a7 242px,#5800ae 243px,#6a01e2 244px,#7703fa 245px,#7502f8 278px,#6e02eb 298px,#7b03fe 321px,#8305fe 324px,#7903fc 335px,#7502f7 368px)"></i><i style="top:289px;height:2px;background:linear-gradient(90deg,#1c0013 0px,#1d0014 8px,#250022 13px,#1a0011 19px,#1d0015 26px,#250021 30px,#370049 34px,#39004e 35px,#37004b 36px,#260024 39px,#1b0012 43px,#260023 52px,#1b0012 66px,#19000f 104px,#1b0012 110px,#17000d 122px,#1b0012 128px,#16000c 138px,#17000d 146px,#23001f 153px,#270026 154px,#38004d 157px,#370049 159px,#32003c 161px,#3d0059 182px,#3e005c 195px,#360047 205px,#3a0053 215px,#3c0058 216px,#420067 217px,#500093 219px,#5500a4 220px,#5e01c0 224px,#5f01c4 235px,#5a00b2 240px,#5400a2 242px,#5700a9 243px,#6801dd 244px,#7502f7 245px,#7402f5 277px,#6b01e3 297px,#7903fc 322px,#7202f3 368px)"></i><i style="top:291px;height:3px;background:linear-gradient(90deg,#18000e 0px,#1a0011 9px,#200019 13px,#16000c 20px,#19000f 26px,#200019 30px,#330041 34px,#360046 35px,#340042 36px,#21001b 39px,#17000d 44px,#21001a 52px,#17000d 67px,#15000b 146px,#22001c 153px,#250022 154px,#360046 157px,#340042 159px,#2f0036 162px,#3a0051 182px,#3b0054 195px,#330040 205px,#38004b 215px,#3a0050 216px,#460075 218px,#53009d 220px,#5c01b9 224px,#5d01bc 232px,#5e01c0 234px,#5800ad 240px,#53009d 242px,#5500a5 243px,#6601d9 244px,#7302f4 245px,#7102f1 276px,#6701db 297px,#7102f0 315px,#7402f6 325px,#7102f1 342px,#6f02ed 368px)"></i><i style="top:294px;height:3px;background:linear-gradient(90deg,#130009 0px,#17000d 15px,#110007 23px,#190010 30px,#2a002b 33px,#31003a 35px,#2f0036 36px,#1b0012 39px,#120008 44px,#19000f 53px,#110007 75px,#110007 146px,#1f0018 153px,#290029 155px,#32003d 157px,#31003a 159px,#2c002f 162px,#360047 183px,#370049 195px,#300038 205px,#340042 215px,#360047 216px,#3c0056 217px,#4b0083 219px,#500094 220px,#5900b1 224px,#5a01b5 235px,#5600a6 240px,#510097 242px,#53009f 243px,#6401d3 244px,#7102f0 245px,#6e02eb 275px,#6301cf 296px,#6d02e9 314px,#6d02e9 353px,#6b01e4 368px)"></i><i style="top:297px;height:2px;background:linear-gradient(90deg,#0b0003 0px,#0d0004 16px,#0d0004 28px,#100006 30px,#280027 34px,#2a002b 35px,#280028 36px,#120008 39px,#0b0003 45px,#0e0005 55px,#090002 122px,#0c0004 146px,#21001a 154px,#2f0036 157px,#2e0033 159px,#29002a 162px,#33003f 184px,#340041 195px,#2d0032 205px,#31003a 215px,#33003f 216px,#410065 218px,#4e008d 220px,#5700a9 224px,#5800ad 235px,#54009f 240px,#500092 242px,#52009a 243px,#6201cd 244px,#6e02eb 245px,#6c01e7 272px,#5f01c4 296px,#6a01e1 313px,#6801dc 366px,#6801db 368px)"></i><i style="top:299px;height:3px;background:linear-gradient(90deg,#030000 0px,#060001 30px,#17000d 34px,#14000a 37px,#040000 40px,#050001 145px,#1a0011 152px,#1f0017 154px,#2c002f 157px,#260024 162px,#2f0037 184px,#300037 196px,#2a002c 207px,#2e0033 215px,#300038 216px,#360047 217px,#4c0086 220px,#5400a1 224px,#5500a5 235px,#500093 241px,#4e008e 242px,#510095 243px,#6001c8 244px,#6c01e6 245px,#6a01e2 266px,#6601d7 277px,#5f01c3 288px,#5c01ba 297px,#6501d6 311px,#6401d3 357px,#6301d0 368px)"></i><i style="top:302px;height:3px;background:linear-gradient(90deg,#000000 0px,#000000 144px,#18000e 152px,#20001a 155px,#280026 157px,#23001e 163px,#2b002e 186px,#2b002d 196px,#260024 207px,#29002a 215px,#2c002f 216px,#32003e 217px,#49007d 220px,#510097 224px,#52009a 235px,#4d008c 241px,#4c0088 242px,#4f0090 243px,#5e01c0 244px,#6901df 245px,#6801dd 257px,#6201cd 276px,#5b01b8 283px,#5700a9 296px,#6101c8 309px,#6201cd 332px,#5e01c1 364px,#5e01c1 368px)"></i></div>
<svg width="640" height="480" viewBox="0 0 640 480">
<defs><linearGradient id="cb" x1="0" y1="0" x2="0" y2="1"><stop offset="0.0000" stop-color="#ffff00"/><stop offset="0.0156" stop-color="#fdf300"/><stop offset="0.0312" stop-color="#fbe800"/><stop offset="0.0469" stop-color="#f9dd00"/><stop offset="0.0625" stop-color="#f7d200"/><stop offset="0.0781" stop-color="#f5c800"/><stop offset="0.0938" stop-color="#f3be00"/><stop offset="0.1094" stop-color="#f1b400"/><stop offset="0.1250" stop-color="#efab00"/><stop offset="0.1406" stop-color="#eca200"/><stop offset="0.1562" stop-color="#ea9900"/><stop offset="0.1719" stop-color="#e89100"/><stop offset="0.1875" stop-color="#e68900"/><stop offset="0.2031" stop-color="#e48100"/><stop offset="0.2188" stop-color="#e17a00"/><stop offset="0.2344" stop-color="#df7200"/><stop offset="0.2500" stop-color="#dd6c00"/><stop offset="0.2656" stop-color="#db6500"/><stop offset="0.2812" stop-color="#d85f00"/><stop offset="0.2969" stop-color="#d65900"/><stop offset="0.3125" stop-color="#d35300"/><stop offset="0.3281" stop-color="#d14d00"/><stop offset="0.3438" stop-color="#cf4800"/><stop offset="0.3594" stop-color="#cc4300"/><stop offset="0.3750" stop-color="#ca3e00"/><stop offset="0.3906" stop-color="#c73a00"/><stop offset="0.4062" stop-color="#c43500"/><stop offset="0.4219" stop-color="#c23100"/><stop offset="0.4375" stop-color="#bf2d00"/><stop offset="0.4531" stop-color="#bd2a00"/><stop offset="0.4688" stop-color="#ba2600"/><stop offset="0.4844" stop-color="#b72300"/><stop offset="0.5000" stop-color="#b42000"/><stop offset="0.5156" stop-color="#b11d19"/><stop offset="0.5312" stop-color="#af1a32"/><stop offset="0.5469" stop-color="#ac184a"/><stop offset="0.5625" stop-color="#a91562"/><stop offset="0.5781" stop-color="#a61378"/><stop offset="0.5938" stop-color="#a3118e"/><stop offset="0.6094" stop-color="#9f0fa2"/><stop offset="0.6250" stop-color="#9c0db4"/><stop offset="0.6406" stop-color="#990cc5"/><stop offset="0.6562" stop-color="#960ad4"/><stop offset="0.6719" stop-color="#9209e1"/><stop offset="0.6875" stop-color="#8f08ec"/><stop offset="0.7031" stop-color="#8b07f4"/><stop offset="0.7188" stop-color="#8706fa"/><stop offset="0.7344" stop-color="#8305fe"/><stop offset="0.7500" stop-color="#8004ff"/><stop offset="0.7656" stop-color="#7b03fe"/><stop offset="0.7812" stop-color="#7703fa"/><stop offset="0.7969" stop-color="#7302f4"/><stop offset="0.8125" stop-color="#6e02ec"/><stop offset="0.8281" stop-color="#6a01e1"/><stop offset="0.8438" stop-color="#6501d4"/><stop offset="0.8594" stop-color="#6001c5"/><stop offset="0.8750" stop-color="#5a00b4"/><stop offset="0.8906" stop-color="#5400a2"/><stop offset="0.9062" stop-color="#4e008e"/><stop offset="0.9219" stop-color="#470078"/><stop offset="0.9375" stop-color="#400062"/><stop offset="0.9531" stop-color="#37004a"/><stop offset="0.9688" stop-color="#2d0032"/><stop offset="0.9844" stop-color="#200019"/><stop offset="1.0000" stop-color="#000000"/></linearGradient></defs>
<rect x="501.5" y="81.5" width="18.0" height="318.0" fill="url(#cb)"/>
<rect x="144.2" y="386.5" width="1.7" height="6.5" fill="#fff"/>
<rect x="172.2" y="387.0" width="1.7" height="6.0" fill="#fff"/>
<rect x="157.6" y="391.2" width="2.4" height="1.8" fill="#fff"/>
<rect x="188.2" y="391.1" width="2.8" height="1.9" fill="#fff"/>
<rect x="170.2" y="391.0" width="2.0" height="2.0" fill="#fff"/>
<rect x="202.0" y="391.4" width="2.0" height="1.6" fill="#fff"/>
<rect x="217.0" y="391.4" width="1.8" height="1.6" fill="#fff"/>
<rect x="238.0" y="391.2" width="1.8" height="1.8" fill="#fff"/>
<path d="M111.5 401V395M111.5 81V87M127.5 401V397M127.5 81V85M142.5 401V397M142.5 81V85M158.5 401V397M158.5 81V85M173.5 401V395M173.5 81V87M188.5 401V397M188.5 81V85M204.5 401V397M204.5 81V85M219.5 401V397M219.5 81V85M235.5 401V395M235.5 81V87M250.5 401V397M250.5 81V85M265.5 401V397M265.5 81V85M281.5 401V397M281.5 81V85M296.5 401V395M296.5 81V87M312.5 401V397M312.5 81V85M327.5 401V397M327.5 81V85M343.5 401V397M343.5 81V85M358.5 401V395M358.5 81V87M373.5 401V397M373.5 81V85M389.5 401V397M389.5 81V85M404.5 401V397M404.5 81V85M420.5 401V395M420.5 81V87M435.5 401V397M435.5 81V85M450.5 401V397M450.5 81V85M466.5 401V397M466.5 81V85M481.5 401V395M481.5 81V87M111 393.5H115M483 393.5H479M111 386.5H118M483 386.5H476M111 339.5H115M483 339.5H479M111 312.5H115M483 312.5H479M111 293.5H115M483 293.5H479M111 278.5H115M483 278.5H479M111 265.5H115M483 265.5H479M111 255.5H115M483 255.5H479M111 246.5H115M483 246.5H479M111 238.5H115M483 238.5H479M111 231.5H118M483 231.5H476M111 184.5H115M483 184.5H479M111 157.5H115M483 157.5H479M111 138.5H115M483 138.5H479M111 123.5H115M483 123.5H479M111 110.5H115M483 110.5H479M111 100.5H115M483 100.5H479M111 91.5H115M483 91.5H479M111 83.5H115M483 83.5H479M111 400.5H115M483 400.5H479M501 354.5H506M520 354.5H515M501 309.5H506M520 309.5H515M501 263.5H506M520 263.5H515M501 218.5H506M520 218.5H515M501 172.5H506M520 172.5H515M501 127.5H506M520 127.5H515" stroke="#000" stroke-width="1" fill="none"/>
<rect x="112.5" y="81.5" width="370.0" height="318.0" fill="none" stroke="#000" stroke-width="1"/>
<rect x="501.5" y="81.5" width="18.0" height="318.0" fill="none" stroke="#000" stroke-width="1"/>
<text x="297.5" y="61" text-anchor="middle" letter-spacing="0.45">dN / d log d (5/9/1)</text>
<text x="296.6" y="452.5" text-anchor="middle" letter-spacing="0.55">Time [hour]</text>
<text transform="translate(56.5,238.6) rotate(-90)" text-anchor="middle" letter-spacing="0.3">Particle size [nm]</text>
<text x="114.1" y="426.5" text-anchor="middle" letter-spacing="0.50">0</text>
<text x="175.8" y="426.5" text-anchor="middle" letter-spacing="0.50">4</text>
<text x="237.4" y="426.5" text-anchor="middle" letter-spacing="0.50">8</text>
<text x="299.1" y="426.5" text-anchor="middle" letter-spacing="0.50">12</text>
<text x="360.8" y="426.5" text-anchor="middle" letter-spacing="0.50">16</text>
<text x="422.4" y="426.5" text-anchor="middle" letter-spacing="0.50">20</text>
<text x="484.1" y="426.5" text-anchor="middle" letter-spacing="0.50">24</text>
<text x="97.6" y="390.2" text-anchor="end" letter-spacing="0.50">10</text>
<text x="97.6" y="235.2" text-anchor="end" letter-spacing="0.50">100</text>
<text x="532.8" y="404.0" letter-spacing="0.50">0</text>
<text x="532.8" y="358.6" letter-spacing="0.50">500</text>
<text x="532.8" y="313.1" letter-spacing="0.50">1000</text>
<text x="532.8" y="267.7" letter-spacing="0.50">1500</text>
<text x="532.8" y="222.3" letter-spacing="0.50">2000</text>
<text x="532.8" y="176.9" letter-spacing="0.50">2500</text>
<text x="532.8" y="131.4" letter-spacing="0.50">3000</text>
<text x="532.8" y="86.0" letter-spacing="0.50">3500</text>
</svg></div></body></html>
